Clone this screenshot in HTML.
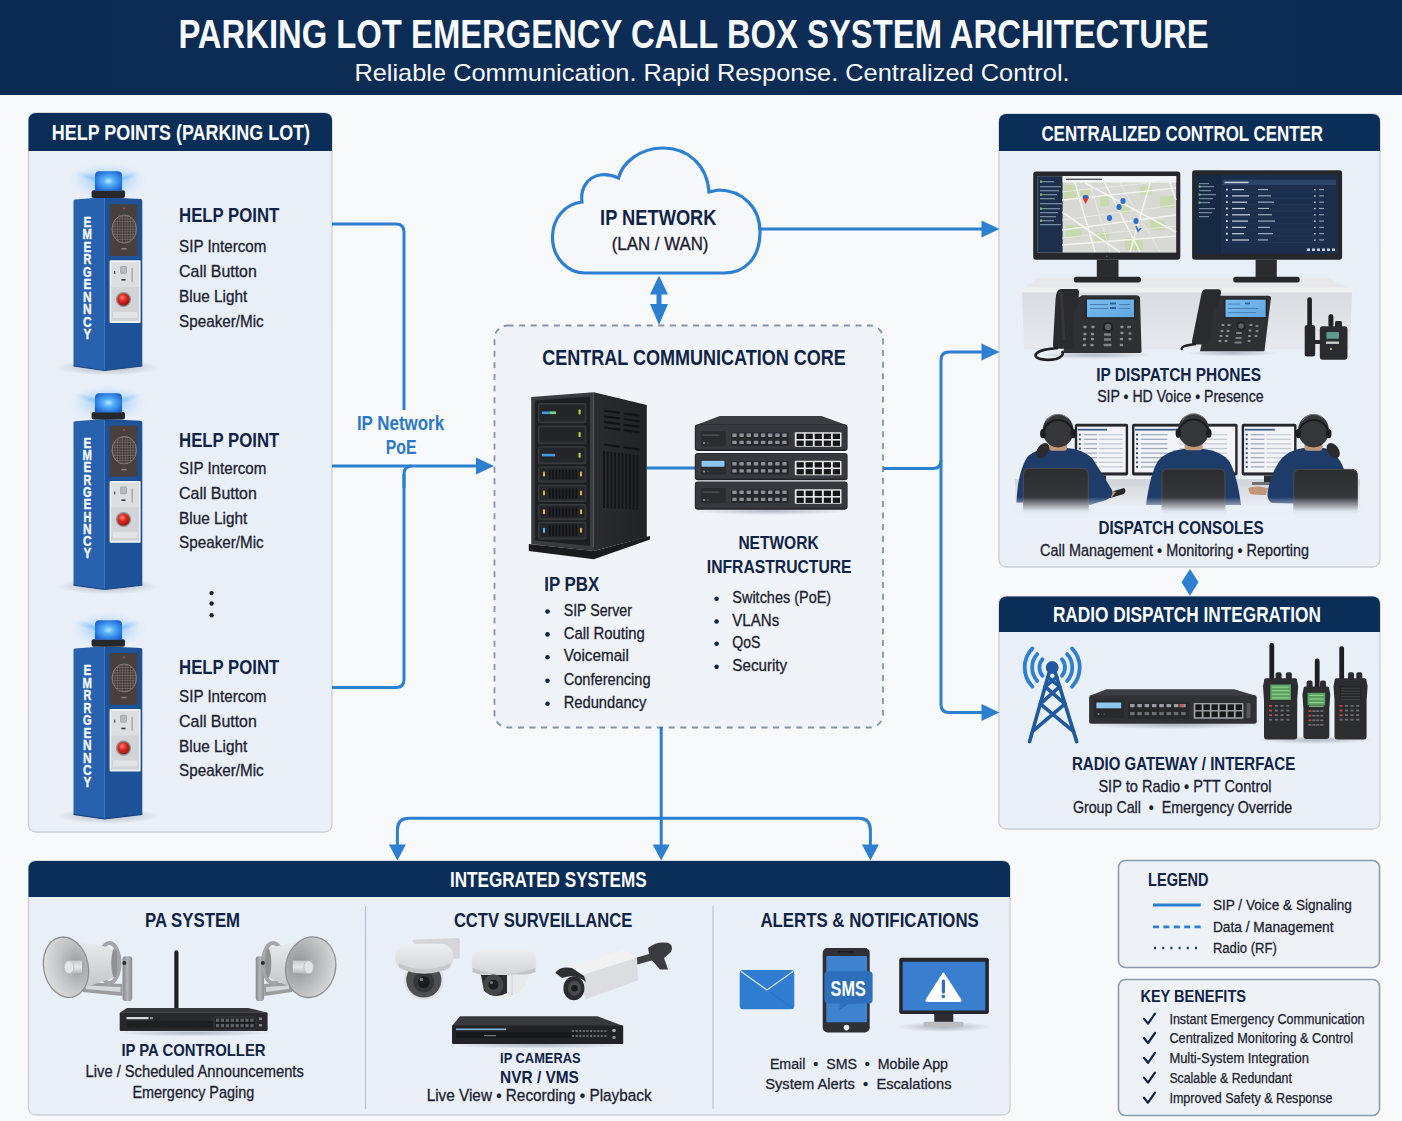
<!DOCTYPE html>
<html><head><meta charset="utf-8"><title>Parking Lot Emergency Call Box System Architecture</title>
<style>html,body{margin:0;padding:0;background:#f8f9fa;} svg{display:block;} text{font-family:"Liberation Sans",sans-serif;white-space:pre;}</style>
</head><body>
<svg width="1402" height="1121" viewBox="0 0 1402 1121">
<defs>
<linearGradient id="hdrg" x1="0" y1="0" x2="1" y2="0"><stop offset="0" stop-color="#0c2b52"/><stop offset="0.5" stop-color="#0d2d56"/><stop offset="1" stop-color="#0c2b52"/></linearGradient>
<linearGradient id="pbody" x1="0" y1="0" x2="0" y2="1"><stop offset="0" stop-color="#e8eff7"/><stop offset="1" stop-color="#ebf0f7"/></linearGradient>
</defs>
<rect x="0" y="0" width="1402" height="1121" fill="#f8f9fa"/>
<rect x="0" y="0" width="1402" height="95" fill="url(#hdrg)"/>
<path d="M28.5,121 Q28.5,113 36.5,113 L324,113 Q332,113 332,121 L332,824 Q332,832 324,832 L36.5,832 Q28.5,832 28.5,824 Z" fill="url(#pbody)" stroke="#c9cfd8" stroke-width="1.3"/>
<path d="M28.5,121 Q28.5,113 36.5,113 L324,113 Q332,113 332,121 L332,151 L28.5,151 Z" fill="#0b2e58"/>
<path d="M999,122 Q999,114 1007,114 L1372,114 Q1380,114 1380,122 L1380,559 Q1380,567 1372,567 L1007,567 Q999,567 999,559 Z" fill="url(#pbody)" stroke="#c9cfd8" stroke-width="1.3"/>
<path d="M999,122 Q999,114 1007,114 L1372,114 Q1380,114 1380,122 L1380,151 L999,151 Z" fill="#0b2e58"/>
<path d="M999,604.5 Q999,596.5 1007,596.5 L1372,596.5 Q1380,596.5 1380,604.5 L1380,821 Q1380,829 1372,829 L1007,829 Q999,829 999,821 Z" fill="url(#pbody)" stroke="#c9cfd8" stroke-width="1.3"/>
<path d="M999,604.5 Q999,596.5 1007,596.5 L1372,596.5 Q1380,596.5 1380,604.5 L1380,632 L999,632 Z" fill="#0b2e58"/>
<path d="M28.5,869 Q28.5,861 36.5,861 L1002,861 Q1010,861 1010,869 L1010,1107 Q1010,1115 1002,1115 L36.5,1115 Q28.5,1115 28.5,1107 Z" fill="url(#pbody)" stroke="#c9cfd8" stroke-width="1.3"/>
<path d="M28.5,869 Q28.5,861 36.5,861 L1002,861 Q1010,861 1010,869 L1010,897 L28.5,897 Z" fill="#0b2e58"/>
<rect x="1118.5" y="860.5" width="261" height="107" rx="7" fill="#eef1f5" stroke="#8d9bb0" stroke-width="1.6"/>
<rect x="1118.5" y="979.5" width="261" height="136" rx="7" fill="#eef1f5" stroke="#8d9bb0" stroke-width="1.6"/>
<line x1="365.5" y1="906" x2="365.5" y2="1109" stroke="#b9c3d0" stroke-width="1.2"/>
<line x1="713" y1="906" x2="713" y2="1109" stroke="#b9c3d0" stroke-width="1.2"/>
<rect x="494.5" y="325.5" width="388.5" height="402" rx="13" fill="#f0f3f7" stroke="#8494ab" stroke-width="1.8" stroke-dasharray="6 5.6"/>
<path d="M332,224 L396,224 Q404,224 404,232 L404,410" fill="none" stroke="#2d7fd0" stroke-width="3" stroke-linejoin="round"/>
<path d="M332,466 L478,466" fill="none" stroke="#2d7fd0" stroke-width="3" stroke-linejoin="round"/>
<path d="M404,488 L404,474 Q404,466 412,466" fill="none" stroke="#2d7fd0" stroke-width="3" stroke-linejoin="round"/>
<path d="M332,687.5 L396,687.5 Q404,687.5 404,679.5 L404,474" fill="none" stroke="#2d7fd0" stroke-width="3" stroke-linejoin="round"/>
<path d="M494,466 L476,457.5 L476,474.5 Z" fill="#2d7fd0"/>
<path d="M760,229 L982,229" fill="none" stroke="#2d7fd0" stroke-width="3" stroke-linejoin="round"/>
<path d="M999.5,229 L981.5,220.5 L981.5,237.5 Z" fill="#2d7fd0"/>
<rect x="656.5" y="292" width="5" height="14" fill="#2d7fd0"/>
<path d="M659,275.5 L650,294.5 L668,294.5 Z" fill="#2d7fd0"/>
<path d="M659,325 L650,304 L668,304 Z" fill="#2d7fd0"/>
<path d="M883,468.5 L933,468.5 Q941,468.5 941,460.5 L941,360 Q941,352 949,352 L982,352" fill="none" stroke="#2d7fd0" stroke-width="3" stroke-linejoin="round"/>
<path d="M941,460 L941,704.5 Q941,712.5 949,712.5 L982,712.5" fill="none" stroke="#2d7fd0" stroke-width="3" stroke-linejoin="round"/>
<path d="M999.5,352 L981.5,343.5 L981.5,360.5 Z" fill="#2d7fd0"/>
<path d="M999.5,712.5 L981.5,704.0 L981.5,721.0 Z" fill="#2d7fd0"/>
<path d="M661.2,727 L661.2,845" fill="none" stroke="#2d7fd0" stroke-width="3" stroke-linejoin="round"/>
<path d="M397.4,845 L397.4,830 Q397.4,818.3 409,818.3 L858.5,818.3 Q870.4,818.3 870.4,830 L870.4,845" fill="none" stroke="#2d7fd0" stroke-width="3" stroke-linejoin="round"/>
<path d="M397.4,860.5 L388.9,844.5 L405.9,844.5 Z" fill="#2d7fd0"/>
<path d="M661.2,860.5 L652.7,844.5 L669.7,844.5 Z" fill="#2d7fd0"/>
<path d="M870.4,860.5 L861.9,844.5 L878.9,844.5 Z" fill="#2d7fd0"/>
<path d="M1190,569 L1198.5,582.3 L1190,595.7 L1181.5,582.3 Z" fill="#2d7fd0"/>
<path d="M647,468 L695,468" fill="none" stroke="#2d7fd0" stroke-width="3" stroke-linejoin="round"/>
<line x1="1153" y1="905.1" x2="1200.7" y2="905.1" stroke="#2d7fd0" stroke-width="3"/>
<line x1="1153" y1="926.9" x2="1200.7" y2="926.9" stroke="#2d7fd0" stroke-width="2.6" stroke-dasharray="6 4.4"/>
<line x1="1154" y1="948" x2="1201" y2="948" stroke="#1d3a66" stroke-width="2.4" stroke-dasharray="2 6.2" stroke-linecap="butt"/>
<path d="M1144,1018.6 L1148,1023.6 L1155,1013.6" fill="none" stroke="#0f2347" stroke-width="2.2" stroke-linecap="round" stroke-linejoin="round"/>
<path d="M1144,1038 L1148,1043 L1155,1033" fill="none" stroke="#0f2347" stroke-width="2.2" stroke-linecap="round" stroke-linejoin="round"/>
<path d="M1144,1057.8 L1148,1062.8 L1155,1052.8" fill="none" stroke="#0f2347" stroke-width="2.2" stroke-linecap="round" stroke-linejoin="round"/>
<path d="M1144,1077.6 L1148,1082.6 L1155,1072.6" fill="none" stroke="#0f2347" stroke-width="2.2" stroke-linecap="round" stroke-linejoin="round"/>
<path d="M1144,1097.7 L1148,1102.7 L1155,1092.7" fill="none" stroke="#0f2347" stroke-width="2.2" stroke-linecap="round" stroke-linejoin="round"/>
<path d="M585,273 L724,273 C745,273 760,258 760,232 C760,207 742,190 718,190 L709,192 C707,165 688,148 663,148 C640,148 622,163 618.6,178 C612,175 606,174 600,175 C588,177 580,188 582,202 C565,204 553,218 552.5,236 C552,257 567,273 585,273 Z" fill="#f6f8fb" stroke="#2d7fd0" stroke-width="3.2"/>
<circle cx="211.6" cy="593.1" r="2.2" fill="#1b2130"/>
<circle cx="211.6" cy="603.5" r="2.2" fill="#1b2130"/>
<circle cx="211.6" cy="615.2" r="2.2" fill="#1b2130"/>
<defs><radialGradient id="kglow" cx="0.5" cy="0.5" r="0.5"><stop offset="0" stop-color="#5fb0ff" stop-opacity="0.75"/><stop offset="0.55" stop-color="#8cc6ff" stop-opacity="0.35"/><stop offset="1" stop-color="#cfe6ff" stop-opacity="0"/></radialGradient><radialGradient id="kdome" cx="0.5" cy="0.5" r="0.62"><stop offset="0" stop-color="#b8ecff"/><stop offset="0.3" stop-color="#5ab4f8"/><stop offset="0.75" stop-color="#2b7be0"/><stop offset="1" stop-color="#1d5fc8"/></radialGradient><radialGradient id="kshadow" cx="0.5" cy="0.5" r="0.5"><stop offset="0" stop-color="#7d8896" stop-opacity="0.55"/><stop offset="1" stop-color="#7d8896" stop-opacity="0"/></radialGradient><radialGradient id="kbtn" cx="0.4" cy="0.35" r="0.65"><stop offset="0" stop-color="#ff8a80"/><stop offset="0.45" stop-color="#e02a22"/><stop offset="1" stop-color="#9a1410"/></radialGradient><pattern id="grille" width="2.6" height="2.6" patternUnits="userSpaceOnUse"><rect width="2.6" height="2.6" fill="#3f3835"/><path d="M0,0.3 H2.6 M0.3,0 V2.6" stroke="#8f8884" stroke-width="0.5"/></pattern><linearGradient id="srvside" x1="0" y1="0" x2="1" y2="0"><stop offset="0" stop-color="#2a2c30"/><stop offset="1" stop-color="#202225"/></linearGradient><linearGradient id="deskfront" x1="0" y1="0" x2="0" y2="1"><stop offset="0" stop-color="#d9dde2"/><stop offset="1" stop-color="#e6e9ee"/></linearGradient><linearGradient id="phscr" x1="0" y1="0" x2="1" y2="1"><stop offset="0" stop-color="#7cbcf0"/><stop offset="1" stop-color="#5fa6e4"/></linearGradient><linearGradient id="chairg" x1="0" y1="0" x2="0" y2="1"><stop offset="0" stop-color="#2b2d30"/><stop offset="1" stop-color="#3a3c40"/></linearGradient><linearGradient id="fadeg" x1="0" y1="0" x2="0" y2="1"><stop offset="0" stop-color="#e9eff7" stop-opacity="0"/><stop offset="0.75" stop-color="#e9eff7" stop-opacity="0.95"/><stop offset="1" stop-color="#e9eff7" stop-opacity="1"/></linearGradient><linearGradient id="brkg" x1="0" y1="0" x2="1" y2="0"><stop offset="0" stop-color="#85878b"/><stop offset="0.5" stop-color="#b4b6b9"/><stop offset="1" stop-color="#8a8c90"/></linearGradient><linearGradient id="horng" x1="0" y1="0" x2="0" y2="1"><stop offset="0" stop-color="#e9eaeb"/><stop offset="1" stop-color="#c4c6c9"/></linearGradient><radialGradient id="mouthgR" cx="0.25" cy="0.5" r="0.9"><stop offset="0" stop-color="#8f9194"/><stop offset="0.45" stop-color="#b9babd"/><stop offset="1" stop-color="#e6e7e8"/></radialGradient><radialGradient id="mouthgL" cx="0.75" cy="0.5" r="0.9"><stop offset="0" stop-color="#9a9c9f"/><stop offset="0.45" stop-color="#c4c5c8"/><stop offset="1" stop-color="#ececed"/></radialGradient><linearGradient id="plugg" x1="0" y1="0" x2="0" y2="1"><stop offset="0" stop-color="#c8c9cc"/><stop offset="0.5" stop-color="#e8e9ea"/><stop offset="1" stop-color="#b4b6b9"/></linearGradient><linearGradient id="camhous" x1="0" y1="0" x2="0" y2="1"><stop offset="0" stop-color="#eeeff0"/><stop offset="1" stop-color="#d2d4d7"/></linearGradient></defs>
<g>
<path d="M528.8,544 L593.8,551 L650,536 L650,539.5 L593.8,559.2 L528.8,551 Z" fill="#1a1b1e"/>
<path d="M528.8,544 L593.8,551 L650,536 L593.8,547 Z" fill="#2c2e32"/>
<path d="M593.8,392.2 L646.8,405 L646.8,537 L593.8,550.3 Z" fill="url(#srvside)"/>
<path d="M531.2,397 L593.8,392.2 L593.8,550.3 L531.2,543.9 Z" fill="#3a3c41"/>
<path d="M535,400.5 L590,396.5 L590,546 L535,540.5 Z" fill="#1d1f22"/>
<rect x="538.5" y="403.5" width="47.3" height="19.2" rx="1" fill="#2e3034" stroke="#46494e" stroke-width="0.6"/>
<rect x="540" y="405.0" width="44.3" height="15.7" fill="#232528"/>
<rect x="542" y="411.5" width="14" height="2.6" fill="#3f9ae0"/><rect x="550" y="411.5" width="6" height="2.6" fill="#7fd06a"/>
<rect x="578.5" y="409.5" width="2.2" height="5" rx="0.8" fill="#a8d04a"/>
<rect x="538.5" y="426" width="47.3" height="17.6" rx="1" fill="#2e3034" stroke="#46494e" stroke-width="0.6"/>
<rect x="540" y="427.5" width="44.3" height="14.1" fill="#232528"/>
<rect x="578.5" y="432.0" width="2.2" height="5" rx="0.8" fill="#a8d04a"/>
<rect x="538.5" y="446.8" width="47.3" height="16.9" rx="1" fill="#2e3034" stroke="#46494e" stroke-width="0.6"/>
<rect x="540" y="448.3" width="44.3" height="13.4" fill="#232528"/>
<rect x="542" y="453.8" width="13" height="2.6" fill="#3f9ae0"/>
<rect x="578.5" y="452.8" width="2.2" height="5" rx="0.8" fill="#a8d04a"/>
<rect x="538.5" y="466.9" width="47.3" height="15.2" rx="1" fill="#2e3034" stroke="#46494e" stroke-width="0.6"/>
<rect x="540" y="468.4" width="44.3" height="11.7" fill="#232528"/>
<rect x="549.0" y="469.9" width="1.6" height="9.2" fill="#121315"/>
<rect x="552.3" y="469.9" width="1.6" height="9.2" fill="#121315"/>
<rect x="555.6" y="469.9" width="1.6" height="9.2" fill="#121315"/>
<rect x="558.9" y="469.9" width="1.6" height="9.2" fill="#121315"/>
<rect x="562.2" y="469.9" width="1.6" height="9.2" fill="#121315"/>
<rect x="565.5" y="469.9" width="1.6" height="9.2" fill="#121315"/>
<rect x="568.8" y="469.9" width="1.6" height="9.2" fill="#121315"/>
<rect x="572.1" y="469.9" width="1.6" height="9.2" fill="#121315"/>
<rect x="575.4" y="469.9" width="1.6" height="9.2" fill="#121315"/>
<rect x="543" y="471.5" width="2" height="5" rx="0.8" fill="#d9b84a"/>
<rect x="580" y="471.5" width="2" height="5" rx="0.8" fill="#d9b84a"/>
<rect x="538.5" y="485.3" width="47.3" height="16.1" rx="1" fill="#2e3034" stroke="#46494e" stroke-width="0.6"/>
<rect x="540" y="486.8" width="44.3" height="12.6" fill="#232528"/>
<rect x="549.0" y="488.3" width="1.6" height="10.1" fill="#121315"/>
<rect x="552.3" y="488.3" width="1.6" height="10.1" fill="#121315"/>
<rect x="555.6" y="488.3" width="1.6" height="10.1" fill="#121315"/>
<rect x="558.9" y="488.3" width="1.6" height="10.1" fill="#121315"/>
<rect x="562.2" y="488.3" width="1.6" height="10.1" fill="#121315"/>
<rect x="565.5" y="488.3" width="1.6" height="10.1" fill="#121315"/>
<rect x="568.8" y="488.3" width="1.6" height="10.1" fill="#121315"/>
<rect x="572.1" y="488.3" width="1.6" height="10.1" fill="#121315"/>
<rect x="575.4" y="488.3" width="1.6" height="10.1" fill="#121315"/>
<rect x="543" y="490.4" width="2" height="5" rx="0.8" fill="#d9b84a"/>
<rect x="580" y="490.4" width="2" height="5" rx="0.8" fill="#d9b84a"/>
<rect x="538.5" y="504.6" width="47.3" height="15.2" rx="1" fill="#2e3034" stroke="#46494e" stroke-width="0.6"/>
<rect x="540" y="506.1" width="44.3" height="11.7" fill="#232528"/>
<rect x="549.0" y="507.6" width="1.6" height="9.2" fill="#121315"/>
<rect x="552.3" y="507.6" width="1.6" height="9.2" fill="#121315"/>
<rect x="555.6" y="507.6" width="1.6" height="9.2" fill="#121315"/>
<rect x="558.9" y="507.6" width="1.6" height="9.2" fill="#121315"/>
<rect x="562.2" y="507.6" width="1.6" height="9.2" fill="#121315"/>
<rect x="565.5" y="507.6" width="1.6" height="9.2" fill="#121315"/>
<rect x="568.8" y="507.6" width="1.6" height="9.2" fill="#121315"/>
<rect x="572.1" y="507.6" width="1.6" height="9.2" fill="#121315"/>
<rect x="575.4" y="507.6" width="1.6" height="9.2" fill="#121315"/>
<rect x="543" y="509.2" width="2" height="5" rx="0.8" fill="#d9b84a"/>
<rect x="580" y="509.2" width="2" height="5" rx="0.8" fill="#d9b84a"/>
<rect x="538.5" y="522.2" width="47.3" height="16.9" rx="1" fill="#2e3034" stroke="#46494e" stroke-width="0.6"/>
<rect x="540" y="523.7" width="44.3" height="13.4" fill="#232528"/>
<rect x="549.0" y="525.2" width="1.6" height="10.9" fill="#121315"/>
<rect x="552.3" y="525.2" width="1.6" height="10.9" fill="#121315"/>
<rect x="555.6" y="525.2" width="1.6" height="10.9" fill="#121315"/>
<rect x="558.9" y="525.2" width="1.6" height="10.9" fill="#121315"/>
<rect x="562.2" y="525.2" width="1.6" height="10.9" fill="#121315"/>
<rect x="565.5" y="525.2" width="1.6" height="10.9" fill="#121315"/>
<rect x="568.8" y="525.2" width="1.6" height="10.9" fill="#121315"/>
<rect x="572.1" y="525.2" width="1.6" height="10.9" fill="#121315"/>
<rect x="575.4" y="525.2" width="1.6" height="10.9" fill="#121315"/>
<rect x="543" y="527.7" width="2" height="5" rx="0.8" fill="#4ac3e8"/>
<rect x="580" y="527.7" width="2" height="5" rx="0.8" fill="#d9b84a"/>
<path d="M604,410.7 L620,412.9 M623.5,413.4 L639.6,415.7" stroke="#121315" stroke-width="2.2"/>
<path d="M604,416.3 L620,418.5 M623.5,419.0 L639.6,421.3" stroke="#121315" stroke-width="2.2"/>
<path d="M604,421.9 L620,424.1 M623.5,424.6 L639.6,426.9" stroke="#121315" stroke-width="2.2"/>
<path d="M604,427.5 L620,429.7 M623.5,430.2 L639.6,432.5" stroke="#121315" stroke-width="2.2"/>
<path d="M604,444.5 L620,446.7 M623.5,447.2 L639.6,449.5" stroke="#121315" stroke-width="2"/>
<path d="M604.0,451.0 L604.0,508.0" stroke="#131416" stroke-width="1.8"/>
<path d="M607.7,451.4 L607.7,508.2" stroke="#131416" stroke-width="1.8"/>
<path d="M611.4,451.9 L611.4,508.4" stroke="#131416" stroke-width="1.8"/>
<path d="M615.1,452.4 L615.1,508.6" stroke="#131416" stroke-width="1.8"/>
<path d="M618.8,452.8 L618.8,508.8" stroke="#131416" stroke-width="1.8"/>
<path d="M622.5,453.2 L622.5,509.0" stroke="#131416" stroke-width="1.8"/>
<path d="M626.2,453.7 L626.2,509.2" stroke="#131416" stroke-width="1.8"/>
<path d="M629.9,454.1 L629.9,509.4" stroke="#131416" stroke-width="1.8"/>
<path d="M633.6,454.6 L633.6,509.6" stroke="#131416" stroke-width="1.8"/>
<path d="M637.3,455.1 L637.3,509.8" stroke="#131416" stroke-width="1.8"/>
</g>
<g>
<path d="M1038,277.7 L1328,277.7 L1354,290.5 L1020.3,290.5 Z" fill="#e6e8eb"/>
<rect x="1020.3" y="287.5" width="333.7" height="5" fill="#eef0f2"/>
<path d="M1022,292.5 L1352,292.5 L1350,349.6 L1024,349.6 Z" fill="url(#deskfront)"/>
</g>
<g>
<rect x="1033.2" y="171.5" width="147.1" height="88.2" rx="3" fill="#25272b"/>
<rect x="1037.4" y="176.2" width="138.8" height="76.4" fill="#d8d9d4"/>
<rect x="1037.4" y="176.2" width="25.2" height="76.4" fill="#1d2f4a"/>
<rect x="1040" y="181" width="14" height="1.3" fill="#8aa0b8" opacity="0.8"/>
<rect x="1040" y="180.5" width="2" height="2.2" fill="#7fc060"/>
<rect x="1040" y="186" width="21" height="1.3" fill="#8aa0b8" opacity="0.8"/>
<rect x="1040" y="190" width="19" height="1.3" fill="#8aa0b8" opacity="0.8"/>
<rect x="1040" y="194" width="17" height="1.3" fill="#8aa0b8" opacity="0.8"/>
<rect x="1040" y="193.5" width="2" height="2.2" fill="#7fc060"/>
<rect x="1040" y="198" width="15" height="1.3" fill="#8aa0b8" opacity="0.8"/>
<rect x="1040" y="203" width="22" height="1.3" fill="#8aa0b8" opacity="0.8"/>
<rect x="1040" y="208" width="20" height="1.3" fill="#8aa0b8" opacity="0.8"/>
<rect x="1040" y="207.5" width="2" height="2.2" fill="#7fc060"/>
<rect x="1040" y="212" width="18" height="1.3" fill="#8aa0b8" opacity="0.8"/>
<rect x="1040" y="216" width="16" height="1.3" fill="#8aa0b8" opacity="0.8"/>
<rect x="1040" y="220" width="14" height="1.3" fill="#8aa0b8" opacity="0.8"/>
<rect x="1040" y="219.5" width="2" height="2.2" fill="#7fc060"/>
<rect x="1040" y="224" width="21" height="1.3" fill="#8aa0b8" opacity="0.8"/>
<rect x="1062.6" y="176.2" width="113.6" height="6.4" fill="#f4f5f6"/>
<rect x="1066" y="178.6" width="36" height="1.4" fill="#555"/>
<rect x="1064" y="185" width="12" height="14" fill="#c8d9ad"/>
<rect x="1080" y="190" width="10" height="8" fill="#c8d9ad"/>
<rect x="1100" y="196" width="9" height="10" fill="#c8d9ad"/>
<rect x="1140" y="186" width="12" height="9" fill="#c8d9ad"/>
<rect x="1160" y="196" width="14" height="12" fill="#c8d9ad"/>
<rect x="1066" y="225" width="16" height="12" fill="#c8d9ad"/>
<rect x="1095" y="232" width="14" height="10" fill="#c8d9ad"/>
<rect x="1125" y="238" width="18" height="12" fill="#c8d9ad"/>
<rect x="1150" y="220" width="15" height="10" fill="#c8d9ad"/>
<rect x="1120" y="205" width="10" height="8" fill="#c8d9ad"/>
<path d="M1062,200 L1176,188" stroke="#f3f3f0" stroke-width="1.6" fill="none"/>
<path d="M1062,230 L1176,215" stroke="#f3f3f0" stroke-width="1.6" fill="none"/>
<path d="M1075,183 L1095,252" stroke="#f3f3f0" stroke-width="1.6" fill="none"/>
<path d="M1105,183 L1140,252" stroke="#f3f3f0" stroke-width="1.6" fill="none"/>
<path d="M1150,183 L1130,252" stroke="#f3f3f0" stroke-width="1.6" fill="none"/>
<path d="M1062,245 L1176,236" stroke="#f3f3f0" stroke-width="1.6" fill="none"/>
<path d="M1170,183 L1176,200" stroke="#f3f3f0" stroke-width="1.6" fill="none"/>
<path d="M1085,183 L1176,232" stroke="#f3f3f0" stroke-width="1.6" fill="none"/>
<path d="M1062,212 L1120,252" stroke="#f3f3f0" stroke-width="1.6" fill="none"/>
<path d="M1062,192 L1176,180" stroke="#ebebe7" stroke-width="0.8" fill="none"/>
<path d="M1062,220 L1176,205" stroke="#ebebe7" stroke-width="0.8" fill="none"/>
<path d="M1090,183 L1110,252" stroke="#ebebe7" stroke-width="0.8" fill="none"/>
<path d="M1120,183 L1160,252" stroke="#ebebe7" stroke-width="0.8" fill="none"/>
<path d="M1062,238 L1176,226" stroke="#ebebe7" stroke-width="0.8" fill="none"/>
<path d="M1085.6,201 m-3,-3 a3,3 0 1,1 6,0 L1085.6,204 Z" fill="#d33"/><path d="M1082.6,198 a3,3 0 0,1 6,0 Z" fill="#2a6fd6"/>
<ellipse cx="1123" cy="201" rx="2.6" ry="3" fill="#2f6fd0"/>
<ellipse cx="1119" cy="207" rx="2.6" ry="3" fill="#2f6fd0"/>
<ellipse cx="1109.5" cy="218" rx="2.6" ry="3" fill="#2f6fd0"/>
<ellipse cx="1136" cy="221" rx="2.6" ry="3" fill="#2f6fd0"/>
<path d="M1136,226 L1138,231 L1141,228" stroke="#2f6fd0" stroke-width="1.6" fill="none"/>
<rect x="1096.8" y="259.7" width="21.7" height="18.3" fill="#2a2c30"/>
<rect x="1073.8" y="276.8" width="67.1" height="5.8" rx="2.5" fill="#26282c"/>
<circle cx="1106.8" cy="256.3" r="0.8" fill="#777"/>
</g>
<g>
<rect x="1192.1" y="170.3" width="150" height="89.4" rx="3" fill="#25272b"/>
<rect x="1196.2" y="175" width="141.8" height="78.8" fill="#1b2f4d"/>
<rect x="1196.2" y="175" width="24.7" height="78.8" fill="#172a44"/>
<rect x="1222.6" y="179.7" width="113.6" height="5.3" fill="#2b4468"/>
<rect x="1224.5" y="181.7" width="24" height="1.5" fill="#c8d2de"/>
<rect x="1226" y="188.7" width="1.8" height="1.8" fill="#dfe6ee"/>
<rect x="1232" y="189.0" width="12" height="1.2" fill="#c9d3df"/>
<rect x="1258" y="189.0" width="10" height="1.1" fill="#a9b6c6"/>
<rect x="1314" y="189.0" width="1.6" height="1.3" fill="#cfd7e1"/><rect x="1319" y="189.0" width="5" height="1.1" fill="#94a3b6"/>
<path d="M1224,192.1 L1322,192.1" stroke="#2a3f5e" stroke-width="0.5"/>
<rect x="1226" y="195.0" width="1.8" height="1.8" fill="#dfe6ee"/>
<rect x="1232" y="195.3" width="17" height="1.2" fill="#c9d3df"/>
<rect x="1258" y="195.3" width="13" height="1.1" fill="#a9b6c6"/>
<rect x="1314" y="195.3" width="1.6" height="1.3" fill="#cfd7e1"/><rect x="1319" y="195.3" width="5" height="1.1" fill="#94a3b6"/>
<path d="M1224,198.4 L1322,198.4" stroke="#2a3f5e" stroke-width="0.5"/>
<rect x="1226" y="201.3" width="1.8" height="1.8" fill="#dfe6ee"/>
<rect x="1232" y="201.6" width="15" height="1.2" fill="#c9d3df"/>
<rect x="1258" y="201.6" width="16" height="1.1" fill="#a9b6c6"/>
<rect x="1314" y="201.6" width="1.6" height="1.3" fill="#cfd7e1"/><rect x="1319" y="201.6" width="5" height="1.1" fill="#94a3b6"/>
<path d="M1224,204.7 L1322,204.7" stroke="#2a3f5e" stroke-width="0.5"/>
<rect x="1226" y="207.6" width="1.8" height="1.8" fill="#dfe6ee"/>
<rect x="1232" y="207.9" width="13" height="1.2" fill="#c9d3df"/>
<rect x="1258" y="207.9" width="11" height="1.1" fill="#a9b6c6"/>
<rect x="1314" y="207.9" width="1.6" height="1.3" fill="#cfd7e1"/><rect x="1319" y="207.9" width="5" height="1.1" fill="#94a3b6"/>
<path d="M1224,211.0 L1322,211.0" stroke="#2a3f5e" stroke-width="0.5"/>
<rect x="1226" y="213.9" width="1.8" height="1.8" fill="#dfe6ee"/>
<rect x="1232" y="214.2" width="18" height="1.2" fill="#c9d3df"/>
<rect x="1258" y="214.2" width="14" height="1.1" fill="#a9b6c6"/>
<rect x="1314" y="214.2" width="1.6" height="1.3" fill="#cfd7e1"/><rect x="1319" y="214.2" width="5" height="1.1" fill="#94a3b6"/>
<path d="M1224,217.3 L1322,217.3" stroke="#2a3f5e" stroke-width="0.5"/>
<rect x="1226" y="220.2" width="1.8" height="1.8" fill="#dfe6ee"/>
<rect x="1232" y="220.5" width="16" height="1.2" fill="#c9d3df"/>
<rect x="1258" y="220.5" width="17" height="1.1" fill="#a9b6c6"/>
<rect x="1314" y="220.5" width="1.6" height="1.3" fill="#cfd7e1"/><rect x="1319" y="220.5" width="5" height="1.1" fill="#94a3b6"/>
<path d="M1224,223.6 L1322,223.6" stroke="#2a3f5e" stroke-width="0.5"/>
<rect x="1226" y="226.5" width="1.8" height="1.8" fill="#dfe6ee"/>
<rect x="1232" y="226.8" width="14" height="1.2" fill="#c9d3df"/>
<rect x="1258" y="226.8" width="12" height="1.1" fill="#a9b6c6"/>
<rect x="1314" y="226.8" width="1.6" height="1.3" fill="#cfd7e1"/><rect x="1319" y="226.8" width="5" height="1.1" fill="#94a3b6"/>
<path d="M1224,229.9 L1322,229.9" stroke="#2a3f5e" stroke-width="0.5"/>
<rect x="1226" y="232.8" width="1.8" height="1.8" fill="#dfe6ee"/>
<rect x="1232" y="233.1" width="12" height="1.2" fill="#c9d3df"/>
<rect x="1258" y="233.1" width="15" height="1.1" fill="#a9b6c6"/>
<rect x="1314" y="233.1" width="1.6" height="1.3" fill="#cfd7e1"/><rect x="1319" y="233.1" width="5" height="1.1" fill="#94a3b6"/>
<path d="M1224,236.2 L1322,236.2" stroke="#2a3f5e" stroke-width="0.5"/>
<rect x="1226" y="239.1" width="1.8" height="1.8" fill="#dfe6ee"/>
<rect x="1232" y="239.4" width="17" height="1.2" fill="#c9d3df"/>
<rect x="1258" y="239.4" width="10" height="1.1" fill="#a9b6c6"/>
<rect x="1314" y="239.4" width="1.6" height="1.3" fill="#cfd7e1"/><rect x="1319" y="239.4" width="5" height="1.1" fill="#94a3b6"/>
<path d="M1224,242.5 L1322,242.5" stroke="#2a3f5e" stroke-width="0.5"/>
<rect x="1199" y="183" width="10" height="1.2" fill="#8aa0b8" opacity="0.8"/>
<rect x="1199" y="186" width="15" height="1.2" fill="#8aa0b8" opacity="0.8"/>
<rect x="1198.5" y="185.5" width="2" height="2.2" fill="#6fbf6a"/>
<rect x="1199" y="190" width="12" height="1.2" fill="#8aa0b8" opacity="0.8"/>
<rect x="1199" y="194" width="17" height="1.2" fill="#8aa0b8" opacity="0.8"/>
<rect x="1198.5" y="193.5" width="2" height="2.2" fill="#6fbf6a"/>
<rect x="1199" y="198" width="14" height="1.2" fill="#8aa0b8" opacity="0.8"/>
<rect x="1199" y="202" width="11" height="1.2" fill="#8aa0b8" opacity="0.8"/>
<rect x="1198.5" y="201.5" width="2" height="2.2" fill="#6fbf6a"/>
<rect x="1199" y="208" width="16" height="1.2" fill="#8aa0b8" opacity="0.8"/>
<rect x="1199" y="212" width="13" height="1.2" fill="#8aa0b8" opacity="0.8"/>
<rect x="1199" y="216" width="10" height="1.2" fill="#8aa0b8" opacity="0.8"/>
<rect x="1307" y="248.5" width="3" height="2.5" fill="#c9d3df"/>
<rect x="1312" y="248.5" width="3" height="2.5" fill="#c9d3df"/>
<rect x="1317" y="248.5" width="3" height="2.5" fill="#c9d3df"/>
<rect x="1322" y="248.5" width="3" height="2.5" fill="#c9d3df"/>
<rect x="1327" y="248.5" width="3" height="2.5" fill="#c9d3df"/>
<rect x="1332" y="248.5" width="3" height="2.5" fill="#c9d3df"/>
<rect x="1255.6" y="259.7" width="21.2" height="18.3" fill="#2a2c30"/>
<rect x="1233.2" y="276.8" width="66.5" height="5.8" rx="2.5" fill="#26282c"/>
</g>
<g>
<ellipse cx="1095" cy="355" rx="55" ry="4" fill="url(#kshadow)"/>
<path d="M1063,353.1 L1140,353.1 Q1142,353 1141.5,350 L1140,298 Q1139.5,295.2 1136,295.2 L1082,295.2 L1075,300 Z" fill="#2f3034"/>
<rect x="1085.7" y="298.3" width="49.6" height="20.1" rx="1.5" fill="#222326"/>
<rect x="1087" y="299.5" width="47" height="17.7" fill="url(#phscr)"/>
<rect x="1090" y="304" width="18" height="1" fill="#4b7fb0"/><rect x="1110" y="302.5" width="6" height="2" fill="#2f5f90"/><rect x="1119" y="304" width="11" height="1" fill="#4b7fb0"/>
<rect x="1090" y="308" width="18" height="1" fill="#4b7fb0"/><rect x="1110" y="307" width="6" height="2" fill="#2f5f90"/><rect x="1119" y="308" width="11" height="1" fill="#4b7fb0"/>
<circle cx="1108" cy="326.9" r="5" fill="#1f2023"/><circle cx="1108" cy="326.9" r="3.2" fill="#5d6064"/>
<rect x="1083.4" y="325.8" width="3.2" height="2.4" rx="0.8" fill="#8a8d92"/>
<rect x="1091.4" y="325.8" width="3.2" height="2.4" rx="0.8" fill="#8a8d92"/>
<rect x="1083.4" y="332.8" width="3.2" height="2.4" rx="0.8" fill="#8a8d92"/>
<rect x="1090.9" y="332.8" width="3.2" height="2.4" rx="0.8" fill="#8a8d92"/>
<rect x="1082.9" y="337.8" width="3.2" height="2.4" rx="0.8" fill="#8a8d92"/>
<rect x="1090.9" y="337.8" width="3.2" height="2.4" rx="0.8" fill="#8a8d92"/>
<rect x="1082.9" y="343.8" width="3.2" height="2.4" rx="0.8" fill="#8a8d92"/>
<rect x="1090.4" y="343.8" width="3.2" height="2.4" rx="0.8" fill="#8a8d92"/>
<rect x="1120.4" y="325.8" width="3.2" height="2.4" rx="0.8" fill="#8a8d92"/>
<rect x="1120.4" y="331.8" width="3.2" height="2.4" rx="0.8" fill="#8a8d92"/>
<rect x="1119.9" y="337.8" width="3.2" height="2.4" rx="0.8" fill="#8a8d92"/>
<rect x="1119.9" y="343.8" width="3.2" height="2.4" rx="0.8" fill="#8a8d92"/>
<rect x="1104.0" y="333.3" width="7" height="2.4" rx="0.8" fill="#7d8085"/>
<rect x="1104.0" y="338.3" width="7" height="2.4" rx="0.8" fill="#7d8085"/>
<rect x="1103.5" y="343.8" width="8" height="2.4" rx="0.8" fill="#7d8085"/>
<rect x="1127.0" y="325.8" width="4" height="2.4" rx="0.8" fill="#7d8085"/>
<rect x="1128.5" y="332.3" width="3" height="2.4" rx="0.8" fill="#7d8085"/>
<rect x="1128.5" y="337.8" width="3" height="2.4" rx="0.8" fill="#7d8085"/>
<path d="M1061,288.9 L1076,288.9 Q1079.5,289.2 1079,293 L1078,303 Q1077,309 1074,313 L1073,338 Q1074,342 1073,346 Q1072.5,348.7 1069,348.7 L1056,348.7 Q1052.5,348.7 1053,344 L1055.5,300 Q1056,289 1061,288.9 Z" fill="#2a2b2e"/>
<path d="M1061,291 L1064,340" stroke="#3a3b3f" stroke-width="3" opacity="0.7"/>
<path d="M1058,348 C1050,349 1040,349 1036,354 C1033,359 1046,361 1056,359 C1062,357.5 1064,354 1062,351" fill="none" stroke="#1f2023" stroke-width="2.6"/>
<ellipse cx="1232" cy="353" rx="45" ry="3.5" fill="url(#kshadow)"/>
<path d="M1200,351.2 L1264.4,351.2 L1271,298 Q1271,295.8 1268,295.8 L1220,295.8 L1212,300 Z" fill="#2f3034"/>
<rect x="1224.2" y="298.5" width="42.8" height="19.8" rx="1.5" fill="#222326"/>
<rect x="1225.5" y="299.7" width="40.2" height="17.4" fill="url(#phscr)"/>
<rect x="1228" y="303.5" width="12" height="1" fill="#4b7fb0"/><rect x="1245" y="302.5" width="5" height="1.8" fill="#2f5f90"/><rect x="1228" y="308" width="30" height="1" fill="#4b7fb0"/><rect x="1228" y="312" width="28" height="0.9" fill="#4b7fb0"/>
<circle cx="1241" cy="326" r="4.4" fill="#1f2023"/><circle cx="1241" cy="326" r="2.8" fill="#5d6064"/>
<rect x="1221.6" y="323.9" width="2.8" height="2.2" rx="0.7" fill="#8a8d92"/>
<rect x="1227.6" y="323.9" width="2.8" height="2.2" rx="0.7" fill="#8a8d92"/>
<rect x="1220.6" y="329.9" width="2.8" height="2.2" rx="0.7" fill="#8a8d92"/>
<rect x="1226.6" y="329.9" width="2.8" height="2.2" rx="0.7" fill="#8a8d92"/>
<rect x="1219.6" y="334.9" width="2.8" height="2.2" rx="0.7" fill="#8a8d92"/>
<rect x="1225.6" y="334.9" width="2.8" height="2.2" rx="0.7" fill="#8a8d92"/>
<rect x="1218.6" y="339.9" width="2.8" height="2.2" rx="0.7" fill="#8a8d92"/>
<rect x="1224.6" y="339.9" width="2.8" height="2.2" rx="0.7" fill="#8a8d92"/>
<rect x="1249.6" y="323.9" width="2.8" height="2.2" rx="0.7" fill="#8a8d92"/>
<rect x="1248.6" y="329.4" width="2.8" height="2.2" rx="0.7" fill="#8a8d92"/>
<rect x="1248.1" y="334.9" width="2.8" height="2.2" rx="0.7" fill="#8a8d92"/>
<rect x="1247.6" y="339.9" width="2.8" height="2.2" rx="0.7" fill="#8a8d92"/>
<rect x="1236.0" y="331.9" width="6" height="2.2" rx="0.7" fill="#7d8085"/>
<rect x="1235.5" y="336.9" width="6" height="2.2" rx="0.7" fill="#7d8085"/>
<rect x="1234.5" y="341.4" width="7" height="2.2" rx="0.7" fill="#7d8085"/>
<rect x="1255.5" y="324.9" width="3" height="2.2" rx="0.7" fill="#7d8085"/>
<rect x="1255.5" y="329.9" width="3" height="2.2" rx="0.7" fill="#7d8085"/>
<rect x="1254.5" y="334.9" width="3" height="2.2" rx="0.7" fill="#7d8085"/>
<path d="M1205,289.2 L1218,289.2 Q1221.5,289.5 1221,293 L1219,302 Q1217,307 1214,310 L1210,336 Q1210.5,340 1209.5,342 Q1208.5,344.6 1205,344.6 L1195,344.6 Q1191.5,344.6 1192,341 L1201,296 Q1202,289.2 1205,289.2 Z" fill="#2a2b2e"/>
<path d="M1196,344 C1188,345 1180,346 1182,350" fill="none" stroke="#1f2023" stroke-width="2.4"/>
<rect x="1307.3" y="297.2" width="4.6" height="30" rx="2.2" fill="#1f2023"/>
<rect x="1304.7" y="324.9" width="10.5" height="31.6" rx="2.5" fill="#26272a"/>
<rect x="1315" y="340" width="6" height="4" fill="#26272a"/>
<rect x="1328.4" y="314.3" width="5" height="13" rx="2.2" fill="#1f2023"/>
<rect x="1335" y="321" width="7" height="7" rx="1.5" fill="#26272a"/>
<rect x="1319.8" y="326.2" width="27.7" height="33.6" rx="3" fill="#2a2b2e"/>
<rect x="1326.4" y="332" width="12.6" height="6.7" rx="0.8" fill="#5e9a90"/>
<rect x="1326" y="341.5" width="13" height="2.4" fill="#c9ccd0"/>
<circle cx="1331" cy="349" r="1.2" fill="#b8a060"/>
</g>
<g>
<rect x="1015" y="479" width="345" height="10" fill="#d3d7dc"/>
<rect x="1015" y="486" width="345" height="19" fill="url(#deskfront)"/>
<rect x="1074.8" y="423.8" width="53.3" height="51.8" rx="2" fill="#25272b"/>
<rect x="1077.2" y="426.6" width="48.5" height="45.8" fill="#f2f4f7"/>
<rect x="1077.8" y="428.8" width="29.3" height="1.8" fill="#3f5f8f"/>
<rect x="1078.8" y="433.8" width="2" height="1.8" fill="#2d4d80"/>
<rect x="1083.8" y="434.1" width="13.3" height="1.2" fill="#9aa6b6"/>
<rect x="1098.8" y="434.1" width="24.0" height="1.2" fill="#c3cad3"/>
<rect x="1078.8" y="438.4" width="2" height="1.8" fill="#2d4d80"/>
<rect x="1083.8" y="438.7" width="13.3" height="1.2" fill="#9aa6b6"/>
<rect x="1098.8" y="438.7" width="24.0" height="1.2" fill="#c3cad3"/>
<rect x="1078.8" y="443.0" width="2" height="1.8" fill="#2d4d80"/>
<rect x="1083.8" y="443.3" width="13.3" height="1.2" fill="#9aa6b6"/>
<rect x="1098.8" y="443.3" width="24.0" height="1.2" fill="#c3cad3"/>
<rect x="1078.8" y="447.6" width="2" height="1.8" fill="#2d4d80"/>
<rect x="1083.8" y="447.9" width="13.3" height="1.2" fill="#9aa6b6"/>
<rect x="1098.8" y="447.9" width="24.0" height="1.2" fill="#c3cad3"/>
<rect x="1078.8" y="452.2" width="2" height="1.8" fill="#2d4d80"/>
<rect x="1083.8" y="452.5" width="13.3" height="1.2" fill="#9aa6b6"/>
<rect x="1098.8" y="452.5" width="24.0" height="1.2" fill="#c3cad3"/>
<rect x="1078.8" y="456.8" width="2" height="1.8" fill="#2d4d80"/>
<rect x="1083.8" y="457.1" width="13.3" height="1.2" fill="#9aa6b6"/>
<rect x="1098.8" y="457.1" width="24.0" height="1.2" fill="#c3cad3"/>
<rect x="1078.8" y="461.4" width="2" height="1.8" fill="#2d4d80"/>
<rect x="1083.8" y="461.7" width="13.3" height="1.2" fill="#9aa6b6"/>
<rect x="1098.8" y="461.7" width="24.0" height="1.2" fill="#c3cad3"/>
<rect x="1078.8" y="466.0" width="2" height="1.8" fill="#2d4d80"/>
<rect x="1083.8" y="466.3" width="13.3" height="1.2" fill="#9aa6b6"/>
<rect x="1098.8" y="466.3" width="24.0" height="1.2" fill="#c3cad3"/>
<rect x="1132" y="423.8" width="105.6" height="51.8" rx="2" fill="#25272b"/>
<rect x="1134.4" y="426.6" width="100.8" height="45.8" fill="#f2f4f7"/>
<rect x="1135" y="428.8" width="58.1" height="1.8" fill="#3f5f8f"/>
<rect x="1136" y="433.8" width="2" height="1.8" fill="#2d4d80"/>
<rect x="1141" y="434.1" width="26.4" height="1.2" fill="#9aa6b6"/>
<rect x="1179.5" y="434.1" width="47.5" height="1.2" fill="#c3cad3"/>
<rect x="1136" y="438.4" width="2" height="1.8" fill="#2d4d80"/>
<rect x="1141" y="438.7" width="26.4" height="1.2" fill="#9aa6b6"/>
<rect x="1179.5" y="438.7" width="47.5" height="1.2" fill="#c3cad3"/>
<rect x="1136" y="443.0" width="2" height="1.8" fill="#2d4d80"/>
<rect x="1141" y="443.3" width="26.4" height="1.2" fill="#9aa6b6"/>
<rect x="1179.5" y="443.3" width="47.5" height="1.2" fill="#c3cad3"/>
<rect x="1136" y="447.6" width="2" height="1.8" fill="#2d4d80"/>
<rect x="1141" y="447.9" width="26.4" height="1.2" fill="#9aa6b6"/>
<rect x="1179.5" y="447.9" width="47.5" height="1.2" fill="#c3cad3"/>
<rect x="1136" y="452.2" width="2" height="1.8" fill="#2d4d80"/>
<rect x="1141" y="452.5" width="26.4" height="1.2" fill="#9aa6b6"/>
<rect x="1179.5" y="452.5" width="47.5" height="1.2" fill="#c3cad3"/>
<rect x="1136" y="456.8" width="2" height="1.8" fill="#2d4d80"/>
<rect x="1141" y="457.1" width="26.4" height="1.2" fill="#9aa6b6"/>
<rect x="1179.5" y="457.1" width="47.5" height="1.2" fill="#c3cad3"/>
<rect x="1136" y="461.4" width="2" height="1.8" fill="#2d4d80"/>
<rect x="1141" y="461.7" width="26.4" height="1.2" fill="#9aa6b6"/>
<rect x="1179.5" y="461.7" width="47.5" height="1.2" fill="#c3cad3"/>
<rect x="1136" y="466.0" width="2" height="1.8" fill="#2d4d80"/>
<rect x="1141" y="466.3" width="26.4" height="1.2" fill="#9aa6b6"/>
<rect x="1179.5" y="466.3" width="47.5" height="1.2" fill="#c3cad3"/>
<rect x="1241.7" y="423.8" width="54.8" height="51.8" rx="2" fill="#25272b"/>
<rect x="1244.1000000000001" y="426.6" width="50.0" height="45.8" fill="#f2f4f7"/>
<rect x="1244.7" y="428.8" width="30.1" height="1.8" fill="#3f5f8f"/>
<rect x="1245.7" y="433.8" width="2" height="1.8" fill="#2d4d80"/>
<rect x="1250.7" y="434.1" width="13.7" height="1.2" fill="#9aa6b6"/>
<rect x="1266.4" y="434.1" width="24.7" height="1.2" fill="#c3cad3"/>
<rect x="1245.7" y="438.4" width="2" height="1.8" fill="#2d4d80"/>
<rect x="1250.7" y="438.7" width="13.7" height="1.2" fill="#9aa6b6"/>
<rect x="1266.4" y="438.7" width="24.7" height="1.2" fill="#c3cad3"/>
<rect x="1245.7" y="443.0" width="2" height="1.8" fill="#2d4d80"/>
<rect x="1250.7" y="443.3" width="13.7" height="1.2" fill="#9aa6b6"/>
<rect x="1266.4" y="443.3" width="24.7" height="1.2" fill="#c3cad3"/>
<rect x="1245.7" y="447.6" width="2" height="1.8" fill="#2d4d80"/>
<rect x="1250.7" y="447.9" width="13.7" height="1.2" fill="#9aa6b6"/>
<rect x="1266.4" y="447.9" width="24.7" height="1.2" fill="#c3cad3"/>
<rect x="1245.7" y="452.2" width="2" height="1.8" fill="#2d4d80"/>
<rect x="1250.7" y="452.5" width="13.7" height="1.2" fill="#9aa6b6"/>
<rect x="1266.4" y="452.5" width="24.7" height="1.2" fill="#c3cad3"/>
<rect x="1245.7" y="456.8" width="2" height="1.8" fill="#2d4d80"/>
<rect x="1250.7" y="457.1" width="13.7" height="1.2" fill="#9aa6b6"/>
<rect x="1266.4" y="457.1" width="24.7" height="1.2" fill="#c3cad3"/>
<rect x="1245.7" y="461.4" width="2" height="1.8" fill="#2d4d80"/>
<rect x="1250.7" y="461.7" width="13.7" height="1.2" fill="#9aa6b6"/>
<rect x="1266.4" y="461.7" width="24.7" height="1.2" fill="#c3cad3"/>
<rect x="1245.7" y="466.0" width="2" height="1.8" fill="#2d4d80"/>
<rect x="1250.7" y="466.3" width="13.7" height="1.2" fill="#9aa6b6"/>
<rect x="1266.4" y="466.3" width="24.7" height="1.2" fill="#c3cad3"/>
<rect x="1098" y="475.6" width="8" height="5" fill="#2a2c30"/><rect x="1264" y="475.6" width="8" height="8" fill="#2a2c30"/><rect x="1252" y="482" width="20" height="3" fill="#6d7075"/>
<path d="M1107,493 L1124,488 Q1127,490 1124,494 L1110,498 Z" fill="#26282b"/>
<path d="M1100,492 Q1108,489 1116,492 L1112,497 Q1104,497 1100,496 Z" fill="#c2987a"/>
<path d="M1049,448 Q1037,449 1028,456 Q1018,470 1016.4,502.6 L1090,505 L1106,500 Q1114,497 1112,490 Q1100,470 1092,458 Q1082,449 1067,448 Z" fill="#1e3c69"/>
<rect x="1049.1" y="440.7" width="18" height="10" rx="3" fill="#c2987a"/>
<ellipse cx="1042" cy="451" rx="5.5" ry="8.5" transform="rotate(35 1043 452)" fill="#2a2b2f"/>
<ellipse cx="1058.1" cy="439.7" rx="11" ry="7" fill="#c2987a"/>
<ellipse cx="1058.1" cy="430.7" rx="15.5" ry="16.8" fill="#35363a"/>
<path d="M1042.3,434.7 A16,17.5 0 0,1 1073.8999999999999,434.7" fill="none" stroke="#151618" stroke-width="1.6"/>
<path d="M1047.1,420.7 A13,13 0 0,1 1067.1,417.7" fill="none" stroke="#9a9ca0" stroke-width="0.8"/>
<ellipse cx="1042.8999999999999" cy="433.7" rx="2.8" ry="4.6" fill="#1c1d20"/>
<ellipse cx="1073.3" cy="433.7" rx="2.8" ry="4.6" fill="#1c1d20"/>
<path d="M1023.5,474.5 Q1023.5,468.5 1029.5,468.5 L1082.3,468.5 Q1088.3,468.5 1088.3,474.5 L1088.3,513 L1023.5,513 Z" fill="url(#chairg)" stroke="#4a4c50" stroke-width="1"/>
<path d="M1183,449 Q1166,451 1158,461 Q1150,474 1146,505 L1241,505 Q1237,474 1229,461 Q1221,451 1204,449 Z" fill="#1e3c69"/>
<rect x="1184.6" y="440.2" width="18" height="10" rx="3" fill="#c2987a"/>
<ellipse cx="1193.6" cy="439.2" rx="11" ry="7" fill="#c2987a"/>
<ellipse cx="1193.6" cy="430.2" rx="15.5" ry="16.8" fill="#35363a"/>
<path d="M1177.8,434.2 A16,17.5 0 0,1 1209.3999999999999,434.2" fill="none" stroke="#151618" stroke-width="1.6"/>
<path d="M1182.6,420.2 A13,13 0 0,1 1202.6,417.2" fill="none" stroke="#9a9ca0" stroke-width="0.8"/>
<ellipse cx="1178.3999999999999" cy="433.2" rx="2.8" ry="4.6" fill="#1c1d20"/>
<ellipse cx="1208.8" cy="433.2" rx="2.8" ry="4.6" fill="#1c1d20"/>
<path d="M1162,475 Q1162,469 1168,469 L1219,469 Q1225,469 1225,475 L1225,513 L1162,513 Z" fill="url(#chairg)" stroke="#4a4c50" stroke-width="1"/>
<path d="M1248,488 Q1256,485 1268,488 L1266,495 Q1256,495 1250,494 Z" fill="#c2987a"/>
<path d="M1303,448 Q1290,450 1282,458 Q1272,470 1268,490 Q1266,500 1272,503 L1349.7,505 Q1348,470 1338,458 Q1330,449 1324,448 Z" fill="#1e3c69"/>
<rect x="1304.5" y="440.7" width="18" height="10" rx="3" fill="#c2987a"/>
<ellipse cx="1334" cy="451" rx="5.5" ry="8.5" transform="rotate(-35 1333 452)" fill="#2a2b2f"/>
<ellipse cx="1313.5" cy="439.7" rx="11" ry="7" fill="#c2987a"/>
<ellipse cx="1313.5" cy="430.7" rx="15.5" ry="16.8" fill="#35363a"/>
<path d="M1297.7,434.7 A16,17.5 0 0,1 1329.3,434.7" fill="none" stroke="#151618" stroke-width="1.6"/>
<path d="M1302.5,420.7 A13,13 0 0,1 1322.5,417.7" fill="none" stroke="#9a9ca0" stroke-width="0.8"/>
<ellipse cx="1298.3" cy="433.7" rx="2.8" ry="4.6" fill="#1c1d20"/>
<ellipse cx="1328.7" cy="433.7" rx="2.8" ry="4.6" fill="#1c1d20"/>
<path d="M1293.8,475.4 Q1293.8,469.4 1299.8,469.4 L1351.5,469.4 Q1357.5,469.4 1357.5,475.4 L1357.5,513 L1293.8,513 Z" fill="url(#chairg)" stroke="#4a4c50" stroke-width="1"/>
<rect x="1012" y="497" width="352" height="19" fill="url(#fadeg)"/>
</g>
<g>
<ellipse cx="771" cy="511" rx="80" ry="4" fill="url(#kshadow)"/>
<path d="M719.7,415.9 L821.5,415.9 L847.6,425.6 L694.8,425.6 Z" fill="#3b3d42"/>
<rect x="694.8" y="424.6" width="152.8" height="26.4" rx="3" fill="#1f2124"/>
<rect x="695.5" y="425.1" width="151.4" height="24.4" rx="2.5" fill="#36393e"/>
<rect x="700.9" y="431.0" width="24.9" height="15.2" rx="1" fill="#2a2c30"/>
<rect x="702.5" y="434.5" width="17" height="1.2" fill="#55585d"/>
<circle cx="704" cy="443.0" r="0.9" fill="#aaa"/><circle cx="708" cy="443.0" r="0.7" fill="#777"/>
<rect x="731" y="432.5" width="58" height="13.5" rx="1" fill="#26282c"/>
<rect x="732.3" y="433.6" width="4.4" height="3.3" rx="0.6" fill="#8d9096"/>
<rect x="739.4" y="433.6" width="4.4" height="3.3" rx="0.6" fill="#8d9096"/>
<rect x="746.6" y="433.6" width="4.4" height="3.3" rx="0.6" fill="#8d9096"/>
<rect x="753.8" y="433.6" width="4.4" height="3.3" rx="0.6" fill="#8d9096"/>
<rect x="760.9" y="433.6" width="4.4" height="3.3" rx="0.6" fill="#8d9096"/>
<rect x="768.0" y="433.6" width="4.4" height="3.3" rx="0.6" fill="#8d9096"/>
<rect x="775.2" y="433.6" width="4.4" height="3.3" rx="0.6" fill="#8d9096"/>
<rect x="782.3" y="433.6" width="4.4" height="3.3" rx="0.6" fill="#8d9096"/>
<rect x="732.3" y="440.8" width="4.4" height="3.3" rx="0.6" fill="#8d9096"/>
<rect x="739.4" y="440.8" width="4.4" height="3.3" rx="0.6" fill="#8d9096"/>
<rect x="746.6" y="440.8" width="4.4" height="3.3" rx="0.6" fill="#8d9096"/>
<rect x="753.8" y="440.8" width="4.4" height="3.3" rx="0.6" fill="#8d9096"/>
<rect x="760.9" y="440.8" width="4.4" height="3.3" rx="0.6" fill="#8d9096"/>
<rect x="768.0" y="440.8" width="4.4" height="3.3" rx="0.6" fill="#8d9096"/>
<rect x="775.2" y="440.8" width="4.4" height="3.3" rx="0.6" fill="#8d9096"/>
<rect x="782.3" y="440.8" width="4.4" height="3.3" rx="0.6" fill="#8d9096"/>
<rect x="794.8" y="432.3" width="46.7" height="14.5" rx="1" fill="#e4e6e9"/>
<rect x="796.6" y="433.7" width="7.2" height="5.3" fill="#141517"/>
<rect x="805.6" y="433.7" width="7.2" height="5.3" fill="#141517"/>
<rect x="814.7" y="433.7" width="7.2" height="5.3" fill="#141517"/>
<rect x="823.8" y="433.7" width="7.2" height="5.3" fill="#141517"/>
<rect x="832.8" y="433.7" width="7.2" height="5.3" fill="#141517"/>
<rect x="796.6" y="440.6" width="7.2" height="5.3" fill="#141517"/>
<rect x="805.6" y="440.6" width="7.2" height="5.3" fill="#141517"/>
<rect x="814.7" y="440.6" width="7.2" height="5.3" fill="#141517"/>
<rect x="823.8" y="440.6" width="7.2" height="5.3" fill="#141517"/>
<rect x="832.8" y="440.6" width="7.2" height="5.3" fill="#141517"/>
<rect x="694.8" y="453.1" width="152.8" height="27.1" rx="3" fill="#1f2124"/>
<rect x="695.5" y="453.6" width="151.4" height="25.1" rx="2.5" fill="#36393e"/>
<rect x="700.9" y="459.5" width="24.9" height="15.2" rx="1" fill="#2a2c30"/>
<rect x="701.5" y="460.8" width="23" height="6" rx="0.8" fill="#8ec4ef"/>
<circle cx="704" cy="471.5" r="0.9" fill="#aaa"/><circle cx="708" cy="471.5" r="0.7" fill="#777"/>
<rect x="731" y="461.0" width="58" height="13.5" rx="1" fill="#26282c"/>
<rect x="732.3" y="462.1" width="4.4" height="3.3" rx="0.6" fill="#8d9096"/>
<rect x="739.4" y="462.1" width="4.4" height="3.3" rx="0.6" fill="#8d9096"/>
<rect x="746.6" y="462.1" width="4.4" height="3.3" rx="0.6" fill="#8d9096"/>
<rect x="753.8" y="462.1" width="4.4" height="3.3" rx="0.6" fill="#8d9096"/>
<rect x="760.9" y="462.1" width="4.4" height="3.3" rx="0.6" fill="#8d9096"/>
<rect x="768.0" y="462.1" width="4.4" height="3.3" rx="0.6" fill="#8d9096"/>
<rect x="775.2" y="462.1" width="4.4" height="3.3" rx="0.6" fill="#8d9096"/>
<rect x="782.3" y="462.1" width="4.4" height="3.3" rx="0.6" fill="#8d9096"/>
<rect x="732.3" y="469.3" width="4.4" height="3.3" rx="0.6" fill="#8d9096"/>
<rect x="739.4" y="469.3" width="4.4" height="3.3" rx="0.6" fill="#8d9096"/>
<rect x="746.6" y="469.3" width="4.4" height="3.3" rx="0.6" fill="#8d9096"/>
<rect x="753.8" y="469.3" width="4.4" height="3.3" rx="0.6" fill="#8d9096"/>
<rect x="760.9" y="469.3" width="4.4" height="3.3" rx="0.6" fill="#8d9096"/>
<rect x="768.0" y="469.3" width="4.4" height="3.3" rx="0.6" fill="#8d9096"/>
<rect x="775.2" y="469.3" width="4.4" height="3.3" rx="0.6" fill="#8d9096"/>
<rect x="782.3" y="469.3" width="4.4" height="3.3" rx="0.6" fill="#8d9096"/>
<rect x="794.8" y="460.8" width="46.7" height="14.5" rx="1" fill="#e4e6e9"/>
<rect x="796.6" y="462.2" width="7.2" height="5.3" fill="#141517"/>
<rect x="805.6" y="462.2" width="7.2" height="5.3" fill="#141517"/>
<rect x="814.7" y="462.2" width="7.2" height="5.3" fill="#141517"/>
<rect x="823.8" y="462.2" width="7.2" height="5.3" fill="#141517"/>
<rect x="832.8" y="462.2" width="7.2" height="5.3" fill="#141517"/>
<rect x="796.6" y="469.1" width="7.2" height="5.3" fill="#141517"/>
<rect x="805.6" y="469.1" width="7.2" height="5.3" fill="#141517"/>
<rect x="814.7" y="469.1" width="7.2" height="5.3" fill="#141517"/>
<rect x="823.8" y="469.1" width="7.2" height="5.3" fill="#141517"/>
<rect x="832.8" y="469.1" width="7.2" height="5.3" fill="#141517"/>
<rect x="694.8" y="481.6" width="152.8" height="28.2" rx="3" fill="#1f2124"/>
<rect x="695.5" y="482.1" width="151.4" height="26.2" rx="2.5" fill="#36393e"/>
<rect x="700.9" y="488.0" width="24.9" height="15.2" rx="1" fill="#2a2c30"/>
<rect x="702.5" y="491.5" width="17" height="1.2" fill="#55585d"/>
<circle cx="704" cy="500.0" r="0.9" fill="#aaa"/><circle cx="708" cy="500.0" r="0.7" fill="#777"/>
<rect x="731" y="489.5" width="58" height="13.5" rx="1" fill="#26282c"/>
<rect x="732.3" y="490.6" width="4.4" height="3.3" rx="0.6" fill="#8d9096"/>
<rect x="739.4" y="490.6" width="4.4" height="3.3" rx="0.6" fill="#8d9096"/>
<rect x="746.6" y="490.6" width="4.4" height="3.3" rx="0.6" fill="#8d9096"/>
<rect x="753.8" y="490.6" width="4.4" height="3.3" rx="0.6" fill="#8d9096"/>
<rect x="760.9" y="490.6" width="4.4" height="3.3" rx="0.6" fill="#8d9096"/>
<rect x="768.0" y="490.6" width="4.4" height="3.3" rx="0.6" fill="#8d9096"/>
<rect x="775.2" y="490.6" width="4.4" height="3.3" rx="0.6" fill="#8d9096"/>
<rect x="782.3" y="490.6" width="4.4" height="3.3" rx="0.6" fill="#8d9096"/>
<rect x="732.3" y="497.8" width="4.4" height="3.3" rx="0.6" fill="#8d9096"/>
<rect x="739.4" y="497.8" width="4.4" height="3.3" rx="0.6" fill="#8d9096"/>
<rect x="746.6" y="497.8" width="4.4" height="3.3" rx="0.6" fill="#8d9096"/>
<rect x="753.8" y="497.8" width="4.4" height="3.3" rx="0.6" fill="#8d9096"/>
<rect x="760.9" y="497.8" width="4.4" height="3.3" rx="0.6" fill="#8d9096"/>
<rect x="768.0" y="497.8" width="4.4" height="3.3" rx="0.6" fill="#8d9096"/>
<rect x="775.2" y="497.8" width="4.4" height="3.3" rx="0.6" fill="#8d9096"/>
<rect x="782.3" y="497.8" width="4.4" height="3.3" rx="0.6" fill="#8d9096"/>
<rect x="794.8" y="489.3" width="46.7" height="14.5" rx="1" fill="#e4e6e9"/>
<rect x="796.6" y="490.7" width="7.2" height="5.3" fill="#141517"/>
<rect x="805.6" y="490.7" width="7.2" height="5.3" fill="#141517"/>
<rect x="814.7" y="490.7" width="7.2" height="5.3" fill="#141517"/>
<rect x="823.8" y="490.7" width="7.2" height="5.3" fill="#141517"/>
<rect x="832.8" y="490.7" width="7.2" height="5.3" fill="#141517"/>
<rect x="796.6" y="497.6" width="7.2" height="5.3" fill="#141517"/>
<rect x="805.6" y="497.6" width="7.2" height="5.3" fill="#141517"/>
<rect x="814.7" y="497.6" width="7.2" height="5.3" fill="#141517"/>
<rect x="823.8" y="497.6" width="7.2" height="5.3" fill="#141517"/>
<rect x="832.8" y="497.6" width="7.2" height="5.3" fill="#141517"/>
</g>
<g>
<path d="M1042.4,659.3 A12.8,12.8 0 0,0 1042.4,675.7" fill="none" stroke="#2f7fd0" stroke-width="3.8" stroke-linecap="round"/>
<path d="M1062.0,659.3 A12.8,12.8 0 0,1 1062.0,675.7" fill="none" stroke="#2f7fd0" stroke-width="3.8" stroke-linecap="round"/>
<path d="M1037.3,654.1 A20,20 0 0,0 1037.3,680.9" fill="none" stroke="#2f7fd0" stroke-width="3.8" stroke-linecap="round"/>
<path d="M1067.1,654.1 A20,20 0 0,1 1067.1,680.9" fill="none" stroke="#2f7fd0" stroke-width="3.8" stroke-linecap="round"/>
<path d="M1032.4,648.4 A27.5,27.5 0 0,0 1032.4,686.6" fill="none" stroke="#2f7fd0" stroke-width="3.8" stroke-linecap="round"/>
<path d="M1072.0,648.4 A27.5,27.5 0 0,1 1072.0,686.6" fill="none" stroke="#2f7fd0" stroke-width="3.8" stroke-linecap="round"/>
<path d="M1049.0,673.0 L1029.6,741.6" stroke="#1f5a9e" stroke-width="3.6" stroke-linecap="round"/>
<path d="M1055.4,673.0 L1076.7,741.6" stroke="#1f5a9e" stroke-width="3.6" stroke-linecap="round"/>
<path d="M1045.1,686.7 L1065.0,703.9" stroke="#1f5a9e" stroke-width="3.6" stroke-linecap="round"/>
<path d="M1059.7,686.7 L1040.3,703.9" stroke="#1f5a9e" stroke-width="3.6" stroke-linecap="round"/>
<path d="M1040.3,703.9 L1073.5,731.3" stroke="#1f5a9e" stroke-width="3.6" stroke-linecap="round"/>
<path d="M1065.0,703.9 L1032.5,731.3" stroke="#1f5a9e" stroke-width="3.6" stroke-linecap="round"/>
<path d="M1047.8,677.1 L1059.7,686.7" stroke="#1f5a9e" stroke-width="3.6" stroke-linecap="round"/>
<path d="M1056.7,677.1 L1045.1,686.7" stroke="#1f5a9e" stroke-width="3.6" stroke-linecap="round"/>
<circle cx="1052.2" cy="667.5" r="6.4" fill="#1f5a9e"/>
</g>
<g>
<ellipse cx="1173" cy="725" rx="88" ry="4" fill="url(#kshadow)"/>
<path d="M1106.7,689.3 L1234,689.3 L1256.7,695.9 L1089.1,695.9 Z" fill="#3b3d42"/>
<rect x="1089.1" y="695.4" width="167.6" height="28.4" rx="2" fill="#2f3135"/>
<rect x="1094" y="700" width="30" height="18" rx="1" fill="#27292c"/>
<rect x="1096.4" y="702.5" width="24.8" height="5.8" fill="#8cc8f0"/>
<circle cx="1098.5" cy="714" r="1" fill="#888"/><circle cx="1104" cy="714" r="0.8" fill="#666"/>
<rect x="1128" y="702" width="61" height="17" rx="1" fill="#26282b"/>
<rect x="1130.0" y="704.0" width="4.6" height="3.2" rx="0.6" fill="#9a9da3"/>
<rect x="1137.3" y="704.0" width="4.6" height="3.2" rx="0.6" fill="#9a9da3"/>
<rect x="1144.6" y="704.0" width="4.6" height="3.2" rx="0.6" fill="#9a9da3"/>
<rect x="1151.9" y="704.0" width="4.6" height="3.2" rx="0.6" fill="#9a9da3"/>
<rect x="1159.2" y="704.0" width="4.6" height="3.2" rx="0.6" fill="#9a9da3"/>
<rect x="1166.5" y="704.0" width="4.6" height="3.2" rx="0.6" fill="#9a9da3"/>
<rect x="1173.8" y="704.0" width="4.6" height="3.2" rx="0.6" fill="#9a9da3"/>
<rect x="1181.1" y="704.0" width="4.6" height="3.2" rx="0.6" fill="#9a9da3"/>
<rect x="1130.0" y="712.0" width="4.6" height="3.2" rx="0.6" fill="#6a6d72"/>
<rect x="1137.3" y="712.0" width="4.6" height="3.2" rx="0.6" fill="#6a6d72"/>
<rect x="1144.6" y="712.0" width="4.6" height="3.2" rx="0.6" fill="#6a6d72"/>
<rect x="1151.9" y="712.0" width="4.6" height="3.2" rx="0.6" fill="#6a6d72"/>
<rect x="1159.2" y="712.0" width="4.6" height="3.2" rx="0.6" fill="#6a6d72"/>
<rect x="1166.5" y="712.0" width="4.6" height="3.2" rx="0.6" fill="#6a6d72"/>
<rect x="1173.8" y="712.0" width="4.6" height="3.2" rx="0.6" fill="#6a6d72"/>
<rect x="1181.1" y="712.0" width="4.6" height="3.2" rx="0.6" fill="#6a6d72"/>
<rect x="1179.5" y="704" width="4.6" height="3.2" rx="0.6" fill="#c0605a"/>
<rect x="1193.7" y="703" width="49.7" height="15.7" rx="1" fill="#9fa3a8"/>
<rect x="1195.4" y="704.4" width="6.3" height="5.7" fill="#161719"/>
<rect x="1203.5" y="704.4" width="6.3" height="5.7" fill="#161719"/>
<rect x="1211.5" y="704.4" width="6.3" height="5.7" fill="#161719"/>
<rect x="1219.6" y="704.4" width="6.3" height="5.7" fill="#161719"/>
<rect x="1227.6" y="704.4" width="6.3" height="5.7" fill="#161719"/>
<rect x="1235.7" y="704.4" width="6.3" height="5.7" fill="#161719"/>
<rect x="1195.4" y="711.5" width="6.3" height="5.7" fill="#161719"/>
<rect x="1203.5" y="711.5" width="6.3" height="5.7" fill="#161719"/>
<rect x="1211.5" y="711.5" width="6.3" height="5.7" fill="#161719"/>
<rect x="1219.6" y="711.5" width="6.3" height="5.7" fill="#161719"/>
<rect x="1227.6" y="711.5" width="6.3" height="5.7" fill="#161719"/>
<rect x="1235.7" y="711.5" width="6.3" height="5.7" fill="#161719"/>
<rect x="1246.5" y="703" width="4" height="15" rx="1" fill="#55585d"/>
</g>
<g>
<ellipse cx="1315" cy="740" rx="58" ry="4" fill="url(#kshadow)"/>
<rect x="1269.3999999999999" y="643.1" width="4.8" height="39.2" rx="2.4" fill="#1d1e21"/>
<rect x="1275.6" y="672.3" width="6" height="8" rx="2" fill="#2a2b2e"/>
<rect x="1285.9" y="672.3" width="6" height="8" rx="2" fill="#2a2b2e"/>
<path d="M1266,678.3 L1295.2,678.3 Q1297.2,678.3 1297.2,681.3 L1298.2,686.3 L1297.2,700.3 L1297.2,736.4 Q1297.2,739.4 1294.2,739.4 L1267,739.4 Q1264,739.4 1264,736.4 L1264,700.3 L1263,686.3 L1264,681.3 Q1264,678.3 1266,678.3 Z" fill="#2c2d30"/>
<rect x="1270.3" y="684.5" width="20.7" height="15.5" fill="#5aa060"/>
<rect x="1271.8" y="686.5" width="17.7" height="1.2" fill="#8fd08a"/>
<rect x="1271.8" y="690.1" width="17.7" height="1.2" fill="#8fd08a"/>
<rect x="1271.8" y="693.7" width="17.7" height="1.2" fill="#8fd08a"/>
<rect x="1271.8" y="697.3" width="17.7" height="1.2" fill="#8fd08a"/>
<rect x="1269.0" y="705.0" width="3" height="1.8" fill="#c8443c"/>
<rect x="1274.8" y="705.0" width="3" height="1.8" fill="#6b6e73"/>
<rect x="1280.6" y="705.0" width="3" height="1.8" fill="#6b6e73"/>
<rect x="1286.4" y="705.0" width="3" height="1.8" fill="#6b6e73"/>
<rect x="1269.0" y="709.6" width="3" height="1.8" fill="#c8443c"/>
<rect x="1274.8" y="709.6" width="3" height="1.8" fill="#6b6e73"/>
<rect x="1280.6" y="709.6" width="3" height="1.8" fill="#6b6e73"/>
<rect x="1286.4" y="709.6" width="3" height="1.8" fill="#6b6e73"/>
<rect x="1269.0" y="714.2" width="3" height="1.8" fill="#c8443c"/>
<rect x="1274.8" y="714.2" width="3" height="1.8" fill="#6b6e73"/>
<rect x="1280.6" y="714.2" width="3" height="1.8" fill="#6b6e73"/>
<rect x="1286.4" y="714.2" width="3" height="1.8" fill="#6b6e73"/>
<rect x="1269.0" y="718.8" width="3" height="1.8" fill="#6b6e73"/>
<rect x="1274.8" y="718.8" width="3" height="1.8" fill="#6b6e73"/>
<rect x="1280.6" y="718.8" width="3" height="1.8" fill="#6b6e73"/>
<rect x="1286.4" y="718.8" width="3" height="1.8" fill="#6b6e73"/>
<rect x="1314.8" y="658.6" width="4.8" height="32.0" rx="2.4" fill="#1d1e21"/>
<rect x="1306.6" y="680.6" width="6" height="8" rx="2" fill="#2a2b2e"/>
<rect x="1320" y="680.6" width="6" height="8" rx="2" fill="#2a2b2e"/>
<path d="M1305.4,686.6 L1327.3,686.6 Q1329.3,686.6 1329.3,689.6 L1330.3,694.6 L1329.3,708.6 L1329.3,736 Q1329.3,739 1326.3,739 L1306.4,739 Q1303.4,739 1303.4,736 L1303.4,708.6 L1302.4,694.6 L1303.4,689.6 Q1303.4,686.6 1305.4,686.6 Z" fill="#2c2d30"/>
<rect x="1307.5" y="692.8" width="17.7" height="12.4" fill="#5aa060"/>
<rect x="1309.0" y="694.8" width="14.7" height="1.2" fill="#8fd08a"/>
<rect x="1309.0" y="698.4" width="14.7" height="1.2" fill="#8fd08a"/>
<rect x="1309.0" y="702.0" width="14.7" height="1.2" fill="#8fd08a"/>
<rect x="1309.0" y="705.6" width="14.7" height="1.2" fill="#8fd08a"/>
<rect x="1308.4" y="710.2" width="3" height="1.8" fill="#c8443c"/>
<rect x="1312.4" y="710.2" width="3" height="1.8" fill="#6b6e73"/>
<rect x="1316.3" y="710.2" width="3" height="1.8" fill="#6b6e73"/>
<rect x="1320.3" y="710.2" width="3" height="1.8" fill="#6b6e73"/>
<rect x="1308.4" y="714.8" width="3" height="1.8" fill="#c8443c"/>
<rect x="1312.4" y="714.8" width="3" height="1.8" fill="#6b6e73"/>
<rect x="1316.3" y="714.8" width="3" height="1.8" fill="#6b6e73"/>
<rect x="1320.3" y="714.8" width="3" height="1.8" fill="#6b6e73"/>
<rect x="1308.4" y="719.4" width="3" height="1.8" fill="#c8443c"/>
<rect x="1312.4" y="719.4" width="3" height="1.8" fill="#6b6e73"/>
<rect x="1316.3" y="719.4" width="3" height="1.8" fill="#6b6e73"/>
<rect x="1320.3" y="719.4" width="3" height="1.8" fill="#6b6e73"/>
<rect x="1308.4" y="724.0" width="3" height="1.8" fill="#6b6e73"/>
<rect x="1312.4" y="724.0" width="3" height="1.8" fill="#6b6e73"/>
<rect x="1316.3" y="724.0" width="3" height="1.8" fill="#6b6e73"/>
<rect x="1320.3" y="724.0" width="3" height="1.8" fill="#6b6e73"/>
<rect x="1339.3" y="646.2" width="4.8" height="36.1" rx="2.4" fill="#1d1e21"/>
<rect x="1348" y="672.3" width="6" height="8" rx="2" fill="#2a2b2e"/>
<rect x="1356.3" y="672.3" width="6" height="8" rx="2" fill="#2a2b2e"/>
<path d="M1336.5,678.3 L1364.6,678.3 Q1366.6,678.3 1366.6,681.3 L1367.6,686.3 L1366.6,700.3 L1366.6,736.4 Q1366.6,739.4 1363.6,739.4 L1337.5,739.4 Q1334.5,739.4 1334.5,736.4 L1334.5,700.3 L1333.5,686.3 L1334.5,681.3 Q1334.5,678.3 1336.5,678.3 Z" fill="#2c2d30"/>
<rect x="1340" y="686" width="21.0" height="14.0" fill="#232427"/>
<rect x="1341" y="687.5" width="19.0" height="1.3" fill="#3d3f43"/>
<rect x="1341" y="690.3" width="19.0" height="1.3" fill="#3d3f43"/>
<rect x="1341" y="693.1" width="19.0" height="1.3" fill="#3d3f43"/>
<rect x="1341" y="695.9" width="19.0" height="1.3" fill="#3d3f43"/>
<rect x="1341" y="698.7" width="19.0" height="1.3" fill="#3d3f43"/>
<rect x="1339.5" y="705.0" width="3" height="1.8" fill="#c8443c"/>
<rect x="1345.0" y="705.0" width="3" height="1.8" fill="#6b6e73"/>
<rect x="1350.5" y="705.0" width="3" height="1.8" fill="#6b6e73"/>
<rect x="1356.1" y="705.0" width="3" height="1.8" fill="#6b6e73"/>
<rect x="1339.5" y="709.6" width="3" height="1.8" fill="#c8443c"/>
<rect x="1345.0" y="709.6" width="3" height="1.8" fill="#6b6e73"/>
<rect x="1350.5" y="709.6" width="3" height="1.8" fill="#6b6e73"/>
<rect x="1356.1" y="709.6" width="3" height="1.8" fill="#6b6e73"/>
<rect x="1339.5" y="714.2" width="3" height="1.8" fill="#c8443c"/>
<rect x="1345.0" y="714.2" width="3" height="1.8" fill="#6b6e73"/>
<rect x="1350.5" y="714.2" width="3" height="1.8" fill="#6b6e73"/>
<rect x="1356.1" y="714.2" width="3" height="1.8" fill="#6b6e73"/>
<rect x="1339.5" y="718.8" width="3" height="1.8" fill="#6b6e73"/>
<rect x="1345.0" y="718.8" width="3" height="1.8" fill="#6b6e73"/>
<rect x="1350.5" y="718.8" width="3" height="1.8" fill="#6b6e73"/>
<rect x="1356.1" y="718.8" width="3" height="1.8" fill="#6b6e73"/>
</g>
<g>
<rect x="122.5" y="956.3" width="9.7" height="44.8" rx="3" fill="url(#brkg)"/>
<path d="M122.5,984 L82.7,982 L82.7,992 L122.5,996 Z" fill="#9a9ca0"/>
<path d="M120.5,987 L85.7,985.5 L85.7,989 L120.5,992 Z" fill="#d5d7da"/>
<ellipse cx="109.5" cy="963" rx="10" ry="20" fill="none" stroke="#a3a5a9" stroke-width="4"/>
<path d="M114.5,948.5 L77.1,941 L79.8,989 L114.5,977.5 Z" fill="url(#horng)"/>
<ellipse cx="114.5" cy="963" rx="3.2" ry="14.5" fill="#8f9195"/>
<circle cx="124.3" cy="963" r="2" fill="#2a2b2e"/>
<ellipse cx="66" cy="967.2" rx="22.2" ry="30.5" transform="rotate(-12 66 967.2)" fill="url(#mouthgL)" stroke="#8e9093" stroke-width="1.3"/>
<path d="M82.0,960.4 L69.0,960.7 L69.0,973.7 L82.0,973.0 Z" fill="url(#plugg)"/>
<ellipse cx="69" cy="967.2" rx="4.8" ry="6.5" fill="#e3e4e6" stroke="#b4b6b9" stroke-width="0.7"/>
</g>
<g>
<rect x="255.7" y="956.3" width="8.4" height="44.8" rx="3" fill="url(#brkg)"/>
<path d="M264.1,984 L292.0,982 L292.0,992 L264.1,996 Z" fill="#9a9ca0"/>
<path d="M266.1,987 L289.0,985.5 L289.0,989 L266.1,992 Z" fill="#d5d7da"/>
<ellipse cx="273.1" cy="963" rx="10" ry="20" fill="none" stroke="#a3a5a9" stroke-width="4"/>
<path d="M268.1,948.5 L298.2,941 L295.3,989 L268.1,977.5 Z" fill="url(#horng)"/>
<ellipse cx="268.1" cy="963" rx="3.2" ry="14.5" fill="#8f9195"/>
<circle cx="262.9" cy="963" r="2" fill="#2a2b2e"/>
<ellipse cx="310.7" cy="967.2" rx="24.9" ry="30.5" transform="rotate(12 310.7 967.2)" fill="url(#mouthgR)" stroke="#8e9093" stroke-width="1.3"/>
<path d="M292.8,960.4 L308.7,960.7 L308.7,973.7 L292.8,973.0 Z" fill="url(#plugg)"/>
<ellipse cx="308.7" cy="967.2" rx="4.8" ry="6.5" fill="#e3e4e6" stroke="#b4b6b9" stroke-width="0.7"/>
</g>
<rect x="174.3" y="950.3" width="4.2" height="60" rx="2.1" fill="#1e1f22"/>
<ellipse cx="194" cy="1033" rx="78" ry="3.5" fill="url(#kshadow)"/>
<path d="M127,1007.9 L248.2,1007.9 L267.6,1012.7 L119.7,1012.7 Z" fill="#36383c"/>
<rect x="119.7" y="1012.4" width="147.9" height="18.5" rx="1.2" fill="#27292c"/>
<rect x="126.5" y="1017" width="22" height="2.2" fill="#d6d8db"/><rect x="150" y="1017" width="3" height="2.2" fill="#888"/>
<rect x="127" y="1021" width="88" height="7" fill="#1e1f22"/>
<rect x="214" y="1017" width="42" height="12.5" rx="1" fill="#1f2023" stroke="#4a4d52" stroke-width="0.6"/>
<rect x="216.0" y="1018.5" width="3.2" height="3.3" fill="#5f6267"/>
<rect x="220.9" y="1018.5" width="3.2" height="3.3" fill="#5f6267"/>
<rect x="225.8" y="1018.5" width="3.2" height="3.3" fill="#5f6267"/>
<rect x="230.7" y="1018.5" width="3.2" height="3.3" fill="#5f6267"/>
<rect x="235.6" y="1018.5" width="3.2" height="3.3" fill="#5f6267"/>
<rect x="240.5" y="1018.5" width="3.2" height="3.3" fill="#5f6267"/>
<rect x="245.4" y="1018.5" width="3.2" height="3.3" fill="#5f6267"/>
<rect x="250.3" y="1018.5" width="3.2" height="3.3" fill="#5f6267"/>
<rect x="216.0" y="1024.0" width="3.2" height="3.3" fill="#5f6267"/>
<rect x="220.9" y="1024.0" width="3.2" height="3.3" fill="#5f6267"/>
<rect x="225.8" y="1024.0" width="3.2" height="3.3" fill="#5f6267"/>
<rect x="230.7" y="1024.0" width="3.2" height="3.3" fill="#5f6267"/>
<rect x="235.6" y="1024.0" width="3.2" height="3.3" fill="#5f6267"/>
<rect x="240.5" y="1024.0" width="3.2" height="3.3" fill="#5f6267"/>
<rect x="245.4" y="1024.0" width="3.2" height="3.3" fill="#5f6267"/>
<rect x="250.3" y="1024.0" width="3.2" height="3.3" fill="#5f6267"/>
<rect x="259" y="1017.5" width="3" height="2.5" fill="#888"/><rect x="259" y="1024" width="3" height="2.5" fill="#888"/>
<g>
<path d="M412.4,941 Q412.4,939.7 414,939.7 L458,938 Q459.8,938 459.8,940 L459.8,957 Q459.8,958.5 458,958.5 L440,960 L420,950 Z" fill="#d5d6d8"/>
<circle cx="423.8" cy="980" r="19.8" fill="#dfe0e2"/>
<circle cx="423.8" cy="980" r="17.6" fill="#4e4f53"/>
<circle cx="423.8" cy="982" r="10.5" fill="#36373a"/><circle cx="423.8" cy="982" r="6" fill="#1a1b1d"/><circle cx="421.5" cy="979.5" r="1.8" fill="#77797d"/>
<rect x="395.3" y="943.7" width="58.2" height="27.3" rx="13" fill="url(#camhous)"/>
<path d="M398.5,963 Q424,976 450.5,963 L450,967.5 Q424,980 399,967.5 Z" fill="#c5c7ca"/>
<rect x="471.8" y="949.4" width="64.4" height="25.1" rx="10" fill="url(#camhous)"/>
<path d="M472.5,968 Q504,980 535.5,968 L535.5,972 Q504,984 472.5,972 Z" fill="#c3c5c8"/>
<path d="M479.7,974.5 L528.8,974.5 Q528,992 504,998.5 Q482,995 479.7,974.5 Z" fill="#e8e9eb"/>
<path d="M481,975 L507,975 L507,993 Q495,1000 484,991 Z" fill="#2a2b2e"/>
<ellipse cx="493.4" cy="984.8" rx="10" ry="10.5" fill="#46474b"/><circle cx="493.4" cy="984.8" r="5" fill="#1c1d1f"/><circle cx="491.5" cy="982.5" r="1.5" fill="#77797d"/>
<path d="M512,975 L512,995" stroke="#cfd1d4" stroke-width="1"/>
<path d="M637,961 L652,956.8" stroke="#3f4044" stroke-width="7" stroke-linecap="round"/>
<path d="M648,948 Q656,941 668,942.8 Q674,945 671,952 L664,958 L668,969.6 L660,969.6 L650,958 Z" fill="#3a3b3f"/>
<path d="M563.7,966.9 L624.2,949.8 L637,957.8 L579.3,976 Z" fill="#f1f1f2"/>
<path d="M579.3,976 L637,957.8 L638.1,980.3 L585.7,999.6 Z" fill="#dcdde0"/>
<path d="M555.2,972.8 Q560,966 572,968 L584,976 L586,982 Q575,973 562,978 Z" fill="#2d2e31"/>
<ellipse cx="573.9" cy="988.3" rx="10.5" ry="12" fill="#2a2b2e"/>
<ellipse cx="574.5" cy="988.3" rx="6.5" ry="7.5" fill="#4a4b4f"/><circle cx="574.5" cy="988.3" r="3.3" fill="#1a1b1d"/>
<ellipse cx="538" cy="1045" rx="90" ry="3.5" fill="url(#kshadow)"/>
<path d="M460,1016.2 L597.5,1016.2 L623.2,1026 L452,1026 Z" fill="#37393d"/>
<rect x="452" y="1025.5" width="171.2" height="18.5" rx="1" fill="#222326"/>
<rect x="456" y="1028.5" width="50" height="1.6" fill="#7fb8d8"/>
<rect x="456" y="1032" width="120" height="6" fill="#18191b"/>
<rect x="484" y="1035" width="12" height="1.2" fill="#777"/>
<rect x="572.0" y="1030.0" width="2" height="2" fill="#6a6d72"/>
<rect x="575.6" y="1030.0" width="2" height="2" fill="#6a6d72"/>
<rect x="579.2" y="1030.0" width="2" height="2" fill="#6a6d72"/>
<rect x="582.8" y="1030.0" width="2" height="2" fill="#6a6d72"/>
<rect x="586.4" y="1030.0" width="2" height="2" fill="#6a6d72"/>
<rect x="590.0" y="1030.0" width="2" height="2" fill="#6a6d72"/>
<rect x="593.6" y="1030.0" width="2" height="2" fill="#6a6d72"/>
<rect x="597.2" y="1030.0" width="2" height="2" fill="#6a6d72"/>
<rect x="600.8" y="1030.0" width="2" height="2" fill="#6a6d72"/>
<rect x="604.4" y="1030.0" width="2" height="2" fill="#6a6d72"/>
<rect x="572.0" y="1035.0" width="2" height="2" fill="#6a6d72"/>
<rect x="575.6" y="1035.0" width="2" height="2" fill="#6a6d72"/>
<rect x="579.2" y="1035.0" width="2" height="2" fill="#6a6d72"/>
<rect x="582.8" y="1035.0" width="2" height="2" fill="#6a6d72"/>
<rect x="586.4" y="1035.0" width="2" height="2" fill="#6a6d72"/>
<rect x="590.0" y="1035.0" width="2" height="2" fill="#6a6d72"/>
<rect x="593.6" y="1035.0" width="2" height="2" fill="#6a6d72"/>
<rect x="597.2" y="1035.0" width="2" height="2" fill="#6a6d72"/>
<rect x="600.8" y="1035.0" width="2" height="2" fill="#6a6d72"/>
<rect x="604.4" y="1035.0" width="2" height="2" fill="#6a6d72"/>
<circle cx="614" cy="1030.5" r="1.8" fill="#aaa"/><circle cx="614" cy="1037.5" r="1.8" fill="#888"/>
</g>
<g>
<rect x="739.7" y="970" width="54.6" height="39.3" rx="3.5" fill="#2f7dd0"/>
<path d="M741,971.5 L767,990 L793,971.5" fill="none" stroke="#cfe4fa" stroke-width="1.4"/>
<path d="M770,992 L792,1008" stroke="#2a6fbd" stroke-width="1" opacity="0.7"/>
<rect x="822.7" y="948" width="47" height="84.5" rx="5" fill="#2f3033"/>
<rect x="826.3" y="955.9" width="40.8" height="66.4" rx="1" fill="#3f83cf"/>
<rect x="838" y="951" width="16" height="1.5" rx="0.7" fill="#1d1e20"/>
<circle cx="846.5" cy="1027.6" r="2.8" fill="#f2f3f5"/>
<path d="M828,971.3 L869,971.3 Q872.6,971.3 872.6,975 L872.6,999.5 Q872.6,1003.4 869,1003.4 L849,1003.4 L839.4,1010.5 L840,1003.4 L828,1003.4 Q824.4,1003.4 824.4,999.5 L824.4,975 Q824.4,971.3 828,971.3 Z" fill="#2d6fba"/>
<text x="830.6" y="995.5" font-size="21.5" font-weight="bold" fill="#ffffff" textLength="35.2" lengthAdjust="spacingAndGlyphs">SMS</text>
<ellipse cx="944" cy="1027" rx="48" ry="5" fill="url(#kshadow)"/>
<rect x="899.2" y="957.8" width="89.7" height="56.2" rx="2.5" fill="#25272b"/>
<rect x="902.7" y="961.8" width="82.6" height="48.7" fill="#3a7fcf"/>
<rect x="934.3" y="1014" width="19" height="8.3" fill="#2a2c30"/>
<rect x="923.6" y="1021.8" width="39.9" height="5.2" rx="1.5" fill="#b9bcc0"/>
<path d="M943.4,973.5 L960.4,1000 Q961,1001 959.6,1001 L927.3,1001 Q925.9,1001 926.5,1000 Z" fill="#ffffff" stroke="#ffffff" stroke-width="2" stroke-linejoin="round"/>
<path d="M943.4,981 L943.4,992" stroke="#2f6fba" stroke-width="3.2" stroke-linecap="round"/><circle cx="943.4" cy="996.5" r="1.8" fill="#2f6fba"/>
</g>
<g transform="translate(0,0) translate(108,171) scale(1,1.0) translate(-108,-171)">
<ellipse cx="108" cy="367.5" rx="52" ry="8" fill="url(#kshadow)"/>
<ellipse cx="108" cy="181" rx="40" ry="19" fill="url(#kglow)"/>
<ellipse cx="92" cy="178" rx="20" ry="5" transform="rotate(18 92 178)" fill="url(#kglow)" opacity="0.7"/>
<ellipse cx="124" cy="178" rx="20" ry="5" transform="rotate(-18 124 178)" fill="url(#kglow)" opacity="0.7"/>
<path d="M73.5,201 Q73.5,199.8 75,199.6 L104.5,197.3 L104.5,370.5 L73.5,366 Z" fill="#2862ae"/>
<path d="M104.5,197.3 L140.5,199.1 Q142.3,199.3 142.3,201 L142.3,366 L104.5,370.5 Z" fill="#1d5198"/>
<path d="M104.5,197.5 L104.5,370.5" stroke="#3a76c0" stroke-width="0.8"/>
<path d="M73.5,366 L104.5,370.5 L142.3,366" fill="none" stroke="#1a4684" stroke-width="1.2"/>
<rect x="91.6" y="190.3" width="33.4" height="7.6" rx="2" fill="#26282c"/>
<path d="M94.9,190.8 L94.9,176 Q94.9,171.2 99.5,171.2 L117.5,171.2 Q122.1,171.2 122.1,176 L122.1,190.8 Z" fill="url(#kdome)"/>
<rect x="109.6" y="204.2" width="28.1" height="51.7" rx="1" fill="#48403c"/>
<circle cx="124" cy="208.5" r="0.9" fill="#c0504a"/>
<ellipse cx="124.3" cy="229.1" rx="12.3" ry="14" fill="url(#grille)" stroke="#9a938f" stroke-width="0.7"/>
<rect x="121.5" y="248" width="5" height="1.5" fill="#8a8380"/>
<rect x="109.6" y="260.3" width="31" height="62.7" rx="1" fill="#f1f2f3"/>
<rect x="111.2" y="262" width="27.8" height="59" fill="#dcdee1"/>
<rect x="111.2" y="287" width="27.8" height="34" fill="#d2d4d7"/>
<rect x="120.5" y="266.5" width="6" height="7" rx="1" fill="#b8babd" stroke="#8f9296" stroke-width="0.6"/>
<rect x="114" y="271" width="1.3" height="3" fill="#55585c"/>
<rect x="121.5" y="279" width="4" height="1.6" fill="#33363a"/>
<rect x="131.5" y="268" width="1.2" height="14" fill="#9a9da1"/>
<rect x="113" y="312" width="24" height="6" fill="#e2e4e6"/>
<circle cx="123.5" cy="299.5" r="7.6" fill="#8c9094"/>
<circle cx="123.5" cy="299.5" r="6.2" fill="url(#kbtn)"/>
<text x="83.40" y="226.50" font-size="15.3" font-weight="bold" fill="#f4f7fb" stroke="#f4f7fb" stroke-width="0.45" textLength="7.80" lengthAdjust="spacingAndGlyphs">E</text>
<text x="82.60" y="239.00" font-size="15.3" font-weight="bold" fill="#f4f7fb" stroke="#f4f7fb" stroke-width="0.45" textLength="9.40" lengthAdjust="spacingAndGlyphs">M</text>
<text x="83.40" y="251.50" font-size="15.3" font-weight="bold" fill="#f4f7fb" stroke="#f4f7fb" stroke-width="0.45" textLength="7.80" lengthAdjust="spacingAndGlyphs">E</text>
<text x="83.40" y="264.00" font-size="15.3" font-weight="bold" fill="#f4f7fb" stroke="#f4f7fb" stroke-width="0.45" textLength="7.80" lengthAdjust="spacingAndGlyphs">R</text>
<text x="83.00" y="276.50" font-size="15.3" font-weight="bold" fill="#f4f7fb" stroke="#f4f7fb" stroke-width="0.45" textLength="8.60" lengthAdjust="spacingAndGlyphs">G</text>
<text x="83.40" y="289.00" font-size="15.3" font-weight="bold" fill="#f4f7fb" stroke="#f4f7fb" stroke-width="0.45" textLength="7.80" lengthAdjust="spacingAndGlyphs">E</text>
<text x="83.00" y="301.50" font-size="15.3" font-weight="bold" fill="#f4f7fb" stroke="#f4f7fb" stroke-width="0.45" textLength="8.60" lengthAdjust="spacingAndGlyphs">N</text>
<text x="83.00" y="314.00" font-size="15.3" font-weight="bold" fill="#f4f7fb" stroke="#f4f7fb" stroke-width="0.45" textLength="8.60" lengthAdjust="spacingAndGlyphs">N</text>
<text x="83.00" y="326.50" font-size="15.3" font-weight="bold" fill="#f4f7fb" stroke="#f4f7fb" stroke-width="0.45" textLength="8.60" lengthAdjust="spacingAndGlyphs">C</text>
<text x="83.40" y="339.00" font-size="15.3" font-weight="bold" fill="#f4f7fb" stroke="#f4f7fb" stroke-width="0.45" textLength="7.80" lengthAdjust="spacingAndGlyphs">Y</text>
</g>
<g transform="translate(0,222) translate(108,171) scale(1,0.985) translate(-108,-171)">
<ellipse cx="108" cy="367.5" rx="52" ry="8" fill="url(#kshadow)"/>
<ellipse cx="108" cy="181" rx="40" ry="19" fill="url(#kglow)"/>
<ellipse cx="92" cy="178" rx="20" ry="5" transform="rotate(18 92 178)" fill="url(#kglow)" opacity="0.7"/>
<ellipse cx="124" cy="178" rx="20" ry="5" transform="rotate(-18 124 178)" fill="url(#kglow)" opacity="0.7"/>
<path d="M73.5,201 Q73.5,199.8 75,199.6 L104.5,197.3 L104.5,370.5 L73.5,366 Z" fill="#2862ae"/>
<path d="M104.5,197.3 L140.5,199.1 Q142.3,199.3 142.3,201 L142.3,366 L104.5,370.5 Z" fill="#1d5198"/>
<path d="M104.5,197.5 L104.5,370.5" stroke="#3a76c0" stroke-width="0.8"/>
<path d="M73.5,366 L104.5,370.5 L142.3,366" fill="none" stroke="#1a4684" stroke-width="1.2"/>
<rect x="91.6" y="190.3" width="33.4" height="7.6" rx="2" fill="#26282c"/>
<path d="M94.9,190.8 L94.9,176 Q94.9,171.2 99.5,171.2 L117.5,171.2 Q122.1,171.2 122.1,176 L122.1,190.8 Z" fill="url(#kdome)"/>
<rect x="109.6" y="204.2" width="28.1" height="51.7" rx="1" fill="#48403c"/>
<circle cx="124" cy="208.5" r="0.9" fill="#c0504a"/>
<ellipse cx="124.3" cy="229.1" rx="12.3" ry="14" fill="url(#grille)" stroke="#9a938f" stroke-width="0.7"/>
<rect x="121.5" y="248" width="5" height="1.5" fill="#8a8380"/>
<rect x="109.6" y="260.3" width="31" height="62.7" rx="1" fill="#f1f2f3"/>
<rect x="111.2" y="262" width="27.8" height="59" fill="#dcdee1"/>
<rect x="111.2" y="287" width="27.8" height="34" fill="#d2d4d7"/>
<rect x="120.5" y="266.5" width="6" height="7" rx="1" fill="#b8babd" stroke="#8f9296" stroke-width="0.6"/>
<rect x="114" y="271" width="1.3" height="3" fill="#55585c"/>
<rect x="121.5" y="279" width="4" height="1.6" fill="#33363a"/>
<rect x="131.5" y="268" width="1.2" height="14" fill="#9a9da1"/>
<rect x="113" y="312" width="24" height="6" fill="#e2e4e6"/>
<circle cx="123.5" cy="299.5" r="7.6" fill="#8c9094"/>
<circle cx="123.5" cy="299.5" r="6.2" fill="url(#kbtn)"/>
<text x="83.40" y="226.50" font-size="15.3" font-weight="bold" fill="#f4f7fb" stroke="#f4f7fb" stroke-width="0.45" textLength="7.80" lengthAdjust="spacingAndGlyphs">E</text>
<text x="82.60" y="239.00" font-size="15.3" font-weight="bold" fill="#f4f7fb" stroke="#f4f7fb" stroke-width="0.45" textLength="9.40" lengthAdjust="spacingAndGlyphs">M</text>
<text x="83.40" y="251.50" font-size="15.3" font-weight="bold" fill="#f4f7fb" stroke="#f4f7fb" stroke-width="0.45" textLength="7.80" lengthAdjust="spacingAndGlyphs">E</text>
<text x="83.40" y="264.00" font-size="15.3" font-weight="bold" fill="#f4f7fb" stroke="#f4f7fb" stroke-width="0.45" textLength="7.80" lengthAdjust="spacingAndGlyphs">R</text>
<text x="83.00" y="276.50" font-size="15.3" font-weight="bold" fill="#f4f7fb" stroke="#f4f7fb" stroke-width="0.45" textLength="8.60" lengthAdjust="spacingAndGlyphs">G</text>
<text x="83.40" y="289.00" font-size="15.3" font-weight="bold" fill="#f4f7fb" stroke="#f4f7fb" stroke-width="0.45" textLength="7.80" lengthAdjust="spacingAndGlyphs">E</text>
<text x="83.40" y="301.50" font-size="15.3" font-weight="bold" fill="#f4f7fb" stroke="#f4f7fb" stroke-width="0.45" textLength="7.80" lengthAdjust="spacingAndGlyphs">H</text>
<text x="83.00" y="314.00" font-size="15.3" font-weight="bold" fill="#f4f7fb" stroke="#f4f7fb" stroke-width="0.45" textLength="8.60" lengthAdjust="spacingAndGlyphs">N</text>
<text x="83.00" y="326.50" font-size="15.3" font-weight="bold" fill="#f4f7fb" stroke="#f4f7fb" stroke-width="0.45" textLength="8.60" lengthAdjust="spacingAndGlyphs">C</text>
<text x="83.40" y="339.00" font-size="15.3" font-weight="bold" fill="#f4f7fb" stroke="#f4f7fb" stroke-width="0.45" textLength="7.80" lengthAdjust="spacingAndGlyphs">Y</text>
</g>
<g transform="translate(0,449) translate(108,171) scale(1,0.997) translate(-108,-171)">
<ellipse cx="108" cy="367.5" rx="52" ry="8" fill="url(#kshadow)"/>
<ellipse cx="108" cy="181" rx="40" ry="19" fill="url(#kglow)"/>
<ellipse cx="92" cy="178" rx="20" ry="5" transform="rotate(18 92 178)" fill="url(#kglow)" opacity="0.7"/>
<ellipse cx="124" cy="178" rx="20" ry="5" transform="rotate(-18 124 178)" fill="url(#kglow)" opacity="0.7"/>
<path d="M73.5,201 Q73.5,199.8 75,199.6 L104.5,197.3 L104.5,370.5 L73.5,366 Z" fill="#2862ae"/>
<path d="M104.5,197.3 L140.5,199.1 Q142.3,199.3 142.3,201 L142.3,366 L104.5,370.5 Z" fill="#1d5198"/>
<path d="M104.5,197.5 L104.5,370.5" stroke="#3a76c0" stroke-width="0.8"/>
<path d="M73.5,366 L104.5,370.5 L142.3,366" fill="none" stroke="#1a4684" stroke-width="1.2"/>
<rect x="91.6" y="190.3" width="33.4" height="7.6" rx="2" fill="#26282c"/>
<path d="M94.9,190.8 L94.9,176 Q94.9,171.2 99.5,171.2 L117.5,171.2 Q122.1,171.2 122.1,176 L122.1,190.8 Z" fill="url(#kdome)"/>
<rect x="109.6" y="204.2" width="28.1" height="51.7" rx="1" fill="#48403c"/>
<circle cx="124" cy="208.5" r="0.9" fill="#c0504a"/>
<ellipse cx="124.3" cy="229.1" rx="12.3" ry="14" fill="url(#grille)" stroke="#9a938f" stroke-width="0.7"/>
<rect x="121.5" y="248" width="5" height="1.5" fill="#8a8380"/>
<rect x="109.6" y="260.3" width="31" height="62.7" rx="1" fill="#f1f2f3"/>
<rect x="111.2" y="262" width="27.8" height="59" fill="#dcdee1"/>
<rect x="111.2" y="287" width="27.8" height="34" fill="#d2d4d7"/>
<rect x="120.5" y="266.5" width="6" height="7" rx="1" fill="#b8babd" stroke="#8f9296" stroke-width="0.6"/>
<rect x="114" y="271" width="1.3" height="3" fill="#55585c"/>
<rect x="121.5" y="279" width="4" height="1.6" fill="#33363a"/>
<rect x="131.5" y="268" width="1.2" height="14" fill="#9a9da1"/>
<rect x="113" y="312" width="24" height="6" fill="#e2e4e6"/>
<circle cx="123.5" cy="299.5" r="7.6" fill="#8c9094"/>
<circle cx="123.5" cy="299.5" r="6.2" fill="url(#kbtn)"/>
<text x="83.40" y="226.50" font-size="15.3" font-weight="bold" fill="#f4f7fb" stroke="#f4f7fb" stroke-width="0.45" textLength="7.80" lengthAdjust="spacingAndGlyphs">E</text>
<text x="82.60" y="239.00" font-size="15.3" font-weight="bold" fill="#f4f7fb" stroke="#f4f7fb" stroke-width="0.45" textLength="9.40" lengthAdjust="spacingAndGlyphs">M</text>
<text x="83.40" y="251.50" font-size="15.3" font-weight="bold" fill="#f4f7fb" stroke="#f4f7fb" stroke-width="0.45" textLength="7.80" lengthAdjust="spacingAndGlyphs">R</text>
<text x="83.40" y="264.00" font-size="15.3" font-weight="bold" fill="#f4f7fb" stroke="#f4f7fb" stroke-width="0.45" textLength="7.80" lengthAdjust="spacingAndGlyphs">R</text>
<text x="83.00" y="276.50" font-size="15.3" font-weight="bold" fill="#f4f7fb" stroke="#f4f7fb" stroke-width="0.45" textLength="8.60" lengthAdjust="spacingAndGlyphs">G</text>
<text x="83.40" y="289.00" font-size="15.3" font-weight="bold" fill="#f4f7fb" stroke="#f4f7fb" stroke-width="0.45" textLength="7.80" lengthAdjust="spacingAndGlyphs">E</text>
<text x="83.00" y="301.50" font-size="15.3" font-weight="bold" fill="#f4f7fb" stroke="#f4f7fb" stroke-width="0.45" textLength="8.60" lengthAdjust="spacingAndGlyphs">N</text>
<text x="83.00" y="314.00" font-size="15.3" font-weight="bold" fill="#f4f7fb" stroke="#f4f7fb" stroke-width="0.45" textLength="8.60" lengthAdjust="spacingAndGlyphs">N</text>
<text x="83.00" y="326.50" font-size="15.3" font-weight="bold" fill="#f4f7fb" stroke="#f4f7fb" stroke-width="0.45" textLength="8.60" lengthAdjust="spacingAndGlyphs">C</text>
<text x="83.40" y="339.00" font-size="15.3" font-weight="bold" fill="#f4f7fb" stroke="#f4f7fb" stroke-width="0.45" textLength="7.80" lengthAdjust="spacingAndGlyphs">Y</text>
</g>
<text x="178.4" y="47.5" font-size="40.58" font-weight="bold" fill="#f7f8fa" textLength="1030.2" lengthAdjust="spacingAndGlyphs" >PARKING LOT EMERGENCY CALL BOX SYSTEM ARCHITECTURE</text>
<text x="354.4" y="81.3" font-size="23.19" font-weight="normal" fill="#f7f8fa" textLength="715.2" lengthAdjust="spacingAndGlyphs" >Reliable Communication. Rapid Response. Centralized Control.</text>
<text x="51.8" y="139.8" font-size="22.46" font-weight="bold" fill="#ffffff" textLength="258.2" lengthAdjust="spacingAndGlyphs" >HELP POINTS (PARKING LOT)</text>
<text x="1041.4" y="140.7" font-size="22.03" font-weight="bold" fill="#ffffff" textLength="281.7" lengthAdjust="spacingAndGlyphs" >CENTRALIZED CONTROL CENTER</text>
<text x="1052.9" y="621.9" font-size="21.59" font-weight="bold" fill="#ffffff" textLength="268.0" lengthAdjust="spacingAndGlyphs" >RADIO DISPATCH INTEGRATION</text>
<text x="449.9" y="887.0" font-size="21.74" font-weight="bold" fill="#ffffff" textLength="196.7" lengthAdjust="spacingAndGlyphs" >INTEGRATED SYSTEMS</text>
<text x="179.1" y="221.9" font-size="20.00" font-weight="bold" fill="#0f2347" textLength="100.2" lengthAdjust="spacingAndGlyphs" >HELP POINT</text>
<text x="179.1" y="251.9" font-size="17.39" font-weight="normal" fill="#1b2130" stroke="#1b2130" stroke-width="0.31" textLength="87.2" lengthAdjust="spacingAndGlyphs" >SIP Intercom</text>
<text x="179.1" y="276.9" font-size="17.39" font-weight="normal" fill="#1b2130" stroke="#1b2130" stroke-width="0.31" textLength="77.7" lengthAdjust="spacingAndGlyphs" >Call Button</text>
<text x="179.1" y="301.9" font-size="17.39" font-weight="normal" fill="#1b2130" stroke="#1b2130" stroke-width="0.31" textLength="68.2" lengthAdjust="spacingAndGlyphs" >Blue Light</text>
<text x="179.1" y="326.9" font-size="17.39" font-weight="normal" fill="#1b2130" stroke="#1b2130" stroke-width="0.31" textLength="84.6" lengthAdjust="spacingAndGlyphs" >Speaker/Mic</text>
<text x="179.1" y="446.5" font-size="20.00" font-weight="bold" fill="#0f2347" textLength="100.2" lengthAdjust="spacingAndGlyphs" >HELP POINT</text>
<text x="179.1" y="473.8" font-size="17.39" font-weight="normal" fill="#1b2130" stroke="#1b2130" stroke-width="0.31" textLength="87.2" lengthAdjust="spacingAndGlyphs" >SIP Intercom</text>
<text x="179.1" y="498.5" font-size="17.39" font-weight="normal" fill="#1b2130" stroke="#1b2130" stroke-width="0.31" textLength="77.7" lengthAdjust="spacingAndGlyphs" >Call Button</text>
<text x="179.1" y="523.5" font-size="17.39" font-weight="normal" fill="#1b2130" stroke="#1b2130" stroke-width="0.31" textLength="68.2" lengthAdjust="spacingAndGlyphs" >Blue Light</text>
<text x="179.1" y="548.1" font-size="17.39" font-weight="normal" fill="#1b2130" stroke="#1b2130" stroke-width="0.31" textLength="84.6" lengthAdjust="spacingAndGlyphs" >Speaker/Mic</text>
<text x="179.1" y="674.1" font-size="20.00" font-weight="bold" fill="#0f2347" textLength="100.2" lengthAdjust="spacingAndGlyphs" >HELP POINT</text>
<text x="179.1" y="702.2" font-size="17.39" font-weight="normal" fill="#1b2130" stroke="#1b2130" stroke-width="0.31" textLength="87.2" lengthAdjust="spacingAndGlyphs" >SIP Intercom</text>
<text x="179.1" y="726.6" font-size="17.39" font-weight="normal" fill="#1b2130" stroke="#1b2130" stroke-width="0.31" textLength="77.7" lengthAdjust="spacingAndGlyphs" >Call Button</text>
<text x="179.1" y="751.5" font-size="17.39" font-weight="normal" fill="#1b2130" stroke="#1b2130" stroke-width="0.31" textLength="68.2" lengthAdjust="spacingAndGlyphs" >Blue Light</text>
<text x="179.1" y="775.9" font-size="17.39" font-weight="normal" fill="#1b2130" stroke="#1b2130" stroke-width="0.31" textLength="84.6" lengthAdjust="spacingAndGlyphs" >Speaker/Mic</text>
<text x="356.9" y="429.8" font-size="20.00" font-weight="bold" fill="#2b78c8" textLength="87.2" lengthAdjust="spacingAndGlyphs" >IP Network</text>
<text x="385.8" y="453.8" font-size="20.00" font-weight="bold" fill="#2b78c8" textLength="30.8" lengthAdjust="spacingAndGlyphs" >PoE</text>
<text x="600.1" y="225.4" font-size="21.74" font-weight="bold" fill="#0f2347" textLength="116.4" lengthAdjust="spacingAndGlyphs" >IP NETWORK</text>
<text x="611.7" y="249.8" font-size="18.12" font-weight="normal" fill="#1b2130" stroke="#1b2130" stroke-width="0.33" textLength="96.8" lengthAdjust="spacingAndGlyphs" >(LAN / WAN)</text>
<text x="542.2" y="365.1" font-size="21.74" font-weight="bold" fill="#0f2347" textLength="303.6" lengthAdjust="spacingAndGlyphs" >CENTRAL COMMUNICATION CORE</text>
<text x="738.4" y="548.5" font-size="18.55" font-weight="bold" fill="#0f2347" textLength="80.2" lengthAdjust="spacingAndGlyphs" >NETWORK</text>
<text x="706.8" y="572.8" font-size="18.55" font-weight="bold" fill="#0f2347" textLength="144.8" lengthAdjust="spacingAndGlyphs" >INFRASTRUCTURE</text>
<text x="544.2" y="590.8" font-size="19.86" font-weight="bold" fill="#0f2347" textLength="55.0" lengthAdjust="spacingAndGlyphs" >IP PBX</text>
<text x="563.7" y="615.7" font-size="16.52" font-weight="normal" fill="#1b2130" stroke="#1b2130" stroke-width="0.30" textLength="68.2" lengthAdjust="spacingAndGlyphs" >SIP Server</text>
<circle cx="547.5" cy="611.5" r="2.3" fill="#0f2347"/>
<text x="563.7" y="638.6" font-size="16.52" font-weight="normal" fill="#1b2130" stroke="#1b2130" stroke-width="0.30" textLength="81.2" lengthAdjust="spacingAndGlyphs" >Call Routing</text>
<circle cx="547.5" cy="634.4" r="2.3" fill="#0f2347"/>
<text x="563.7" y="661.4" font-size="16.52" font-weight="normal" fill="#1b2130" stroke="#1b2130" stroke-width="0.30" textLength="65.2" lengthAdjust="spacingAndGlyphs" >Voicemail</text>
<circle cx="547.5" cy="657.2" r="2.3" fill="#0f2347"/>
<text x="563.7" y="685.0" font-size="16.52" font-weight="normal" fill="#1b2130" stroke="#1b2130" stroke-width="0.30" textLength="86.9" lengthAdjust="spacingAndGlyphs" >Conferencing</text>
<circle cx="547.5" cy="680.8" r="2.3" fill="#0f2347"/>
<text x="563.7" y="708.0" font-size="16.52" font-weight="normal" fill="#1b2130" stroke="#1b2130" stroke-width="0.30" textLength="82.6" lengthAdjust="spacingAndGlyphs" >Redundancy</text>
<circle cx="547.5" cy="703.8" r="2.3" fill="#0f2347"/>
<text x="732.3" y="602.9" font-size="16.52" font-weight="normal" fill="#1b2130" stroke="#1b2130" stroke-width="0.30" textLength="98.9" lengthAdjust="spacingAndGlyphs" >Switches (PoE)</text>
<circle cx="716.6" cy="598.7" r="2.3" fill="#0f2347"/>
<text x="732.3" y="625.7" font-size="16.52" font-weight="normal" fill="#1b2130" stroke="#1b2130" stroke-width="0.30" textLength="46.9" lengthAdjust="spacingAndGlyphs" >VLANs</text>
<circle cx="716.6" cy="621.5" r="2.3" fill="#0f2347"/>
<text x="732.3" y="648.0" font-size="16.52" font-weight="normal" fill="#1b2130" stroke="#1b2130" stroke-width="0.30" textLength="28.2" lengthAdjust="spacingAndGlyphs" >QoS</text>
<circle cx="716.6" cy="643.8" r="2.3" fill="#0f2347"/>
<text x="732.3" y="670.9" font-size="16.52" font-weight="normal" fill="#1b2130" stroke="#1b2130" stroke-width="0.30" textLength="54.9" lengthAdjust="spacingAndGlyphs" >Security</text>
<circle cx="716.6" cy="666.7" r="2.3" fill="#0f2347"/>
<text x="1096.2" y="381.0" font-size="18.12" font-weight="bold" fill="#0f2347" textLength="164.8" lengthAdjust="spacingAndGlyphs" >IP DISPATCH PHONES</text>
<text x="1097.2" y="401.7" font-size="15.94" font-weight="normal" fill="#1b2130" stroke="#1b2130" stroke-width="0.29" textLength="166.4" lengthAdjust="spacingAndGlyphs" >SIP • HD Voice • Presence</text>
<text x="1098.4" y="534.2" font-size="18.12" font-weight="bold" fill="#0f2347" textLength="165.2" lengthAdjust="spacingAndGlyphs" >DISPATCH CONSOLES</text>
<text x="1040.1" y="555.9" font-size="16.52" font-weight="normal" fill="#1b2130" stroke="#1b2130" stroke-width="0.30" textLength="269.0" lengthAdjust="spacingAndGlyphs" >Call Management • Monitoring • Reporting</text>
<text x="1072.0" y="769.7" font-size="18.55" font-weight="bold" fill="#0f2347" textLength="223.2" lengthAdjust="spacingAndGlyphs" >RADIO GATEWAY / INTERFACE</text>
<text x="1098.4" y="791.7" font-size="16.52" font-weight="normal" fill="#1b2130" stroke="#1b2130" stroke-width="0.30" textLength="173.2" lengthAdjust="spacingAndGlyphs" >SIP to Radio • PTT Control</text>
<text x="1072.9" y="813.4" font-size="16.52" font-weight="normal" fill="#1b2130" stroke="#1b2130" stroke-width="0.30" textLength="219.4" lengthAdjust="spacingAndGlyphs" >Group Call  •  Emergency Override</text>
<text x="145.0" y="926.7" font-size="19.86" font-weight="bold" fill="#0f2347" textLength="95.1" lengthAdjust="spacingAndGlyphs" >PA SYSTEM</text>
<text x="121.4" y="1055.5" font-size="17.10" font-weight="bold" fill="#0f2347" textLength="144.2" lengthAdjust="spacingAndGlyphs" >IP PA CONTROLLER</text>
<text x="85.6" y="1076.7" font-size="16.23" font-weight="normal" fill="#1b2130" stroke="#1b2130" stroke-width="0.29" textLength="218.2" lengthAdjust="spacingAndGlyphs" >Live / Scheduled Announcements</text>
<text x="132.4" y="1097.5" font-size="16.23" font-weight="normal" fill="#1b2130" stroke="#1b2130" stroke-width="0.29" textLength="121.9" lengthAdjust="spacingAndGlyphs" >Emergency Paging</text>
<text x="453.9" y="927.1" font-size="19.71" font-weight="bold" fill="#0f2347" textLength="178.4" lengthAdjust="spacingAndGlyphs" >CCTV SURVEILLANCE</text>
<text x="500.1" y="1063.2" font-size="14.20" font-weight="bold" fill="#0f2347" textLength="80.5" lengthAdjust="spacingAndGlyphs" >IP CAMERAS</text>
<text x="500.1" y="1082.5" font-size="16.67" font-weight="bold" fill="#0f2347" textLength="78.8" lengthAdjust="spacingAndGlyphs" >NVR / VMS</text>
<text x="426.7" y="1101.2" font-size="16.67" font-weight="normal" fill="#1b2130" stroke="#1b2130" stroke-width="0.30" textLength="224.9" lengthAdjust="spacingAndGlyphs" >Live View • Recording • Playback</text>
<text x="760.4" y="926.7" font-size="19.57" font-weight="bold" fill="#0f2347" textLength="218.4" lengthAdjust="spacingAndGlyphs" >ALERTS &amp; NOTIFICATIONS</text>
<text x="769.9" y="1069.1" font-size="15.51" font-weight="normal" fill="#1b2130" stroke="#1b2130" stroke-width="0.28" textLength="178.1" lengthAdjust="spacingAndGlyphs" >Email  •  SMS  •  Mobile App</text>
<text x="765.2" y="1089.3" font-size="15.51" font-weight="normal" fill="#1b2130" stroke="#1b2130" stroke-width="0.28" textLength="186.3" lengthAdjust="spacingAndGlyphs" >System Alerts  •  Escalations</text>
<text x="1148.1" y="885.8" font-size="17.83" font-weight="bold" fill="#0f2347" textLength="60.5" lengthAdjust="spacingAndGlyphs" >LEGEND</text>
<text x="1212.9" y="910.0" font-size="15.07" font-weight="normal" fill="#1b2130" stroke="#1b2130" stroke-width="0.27" textLength="139.0" lengthAdjust="spacingAndGlyphs" >SIP / Voice &amp; Signaling</text>
<text x="1212.9" y="931.5" font-size="15.07" font-weight="normal" fill="#1b2130" stroke="#1b2130" stroke-width="0.27" textLength="120.7" lengthAdjust="spacingAndGlyphs" >Data / Management</text>
<text x="1212.9" y="952.8" font-size="15.07" font-weight="normal" fill="#1b2130" stroke="#1b2130" stroke-width="0.27" textLength="64.0" lengthAdjust="spacingAndGlyphs" >Radio (RF)</text>
<text x="1140.4" y="1002.3" font-size="16.81" font-weight="bold" fill="#0f2347" textLength="105.6" lengthAdjust="spacingAndGlyphs" >KEY BENEFITS</text>
<text x="1169.4" y="1023.6" font-size="14.06" font-weight="normal" fill="#1b2130" stroke="#1b2130" stroke-width="0.25" textLength="195.2" lengthAdjust="spacingAndGlyphs" >Instant Emergency Communication</text>
<text x="1169.4" y="1043.0" font-size="14.06" font-weight="normal" fill="#1b2130" stroke="#1b2130" stroke-width="0.25" textLength="183.7" lengthAdjust="spacingAndGlyphs" >Centralized Monitoring &amp; Control</text>
<text x="1169.4" y="1062.8" font-size="14.06" font-weight="normal" fill="#1b2130" stroke="#1b2130" stroke-width="0.25" textLength="139.5" lengthAdjust="spacingAndGlyphs" >Multi-System Integration</text>
<text x="1169.4" y="1082.6" font-size="14.06" font-weight="normal" fill="#1b2130" stroke="#1b2130" stroke-width="0.25" textLength="122.5" lengthAdjust="spacingAndGlyphs" >Scalable &amp; Redundant</text>
<text x="1169.4" y="1102.7" font-size="14.06" font-weight="normal" fill="#1b2130" stroke="#1b2130" stroke-width="0.25" textLength="163.2" lengthAdjust="spacingAndGlyphs" >Improved Safety &amp; Response</text>
</svg>
</body></html>
